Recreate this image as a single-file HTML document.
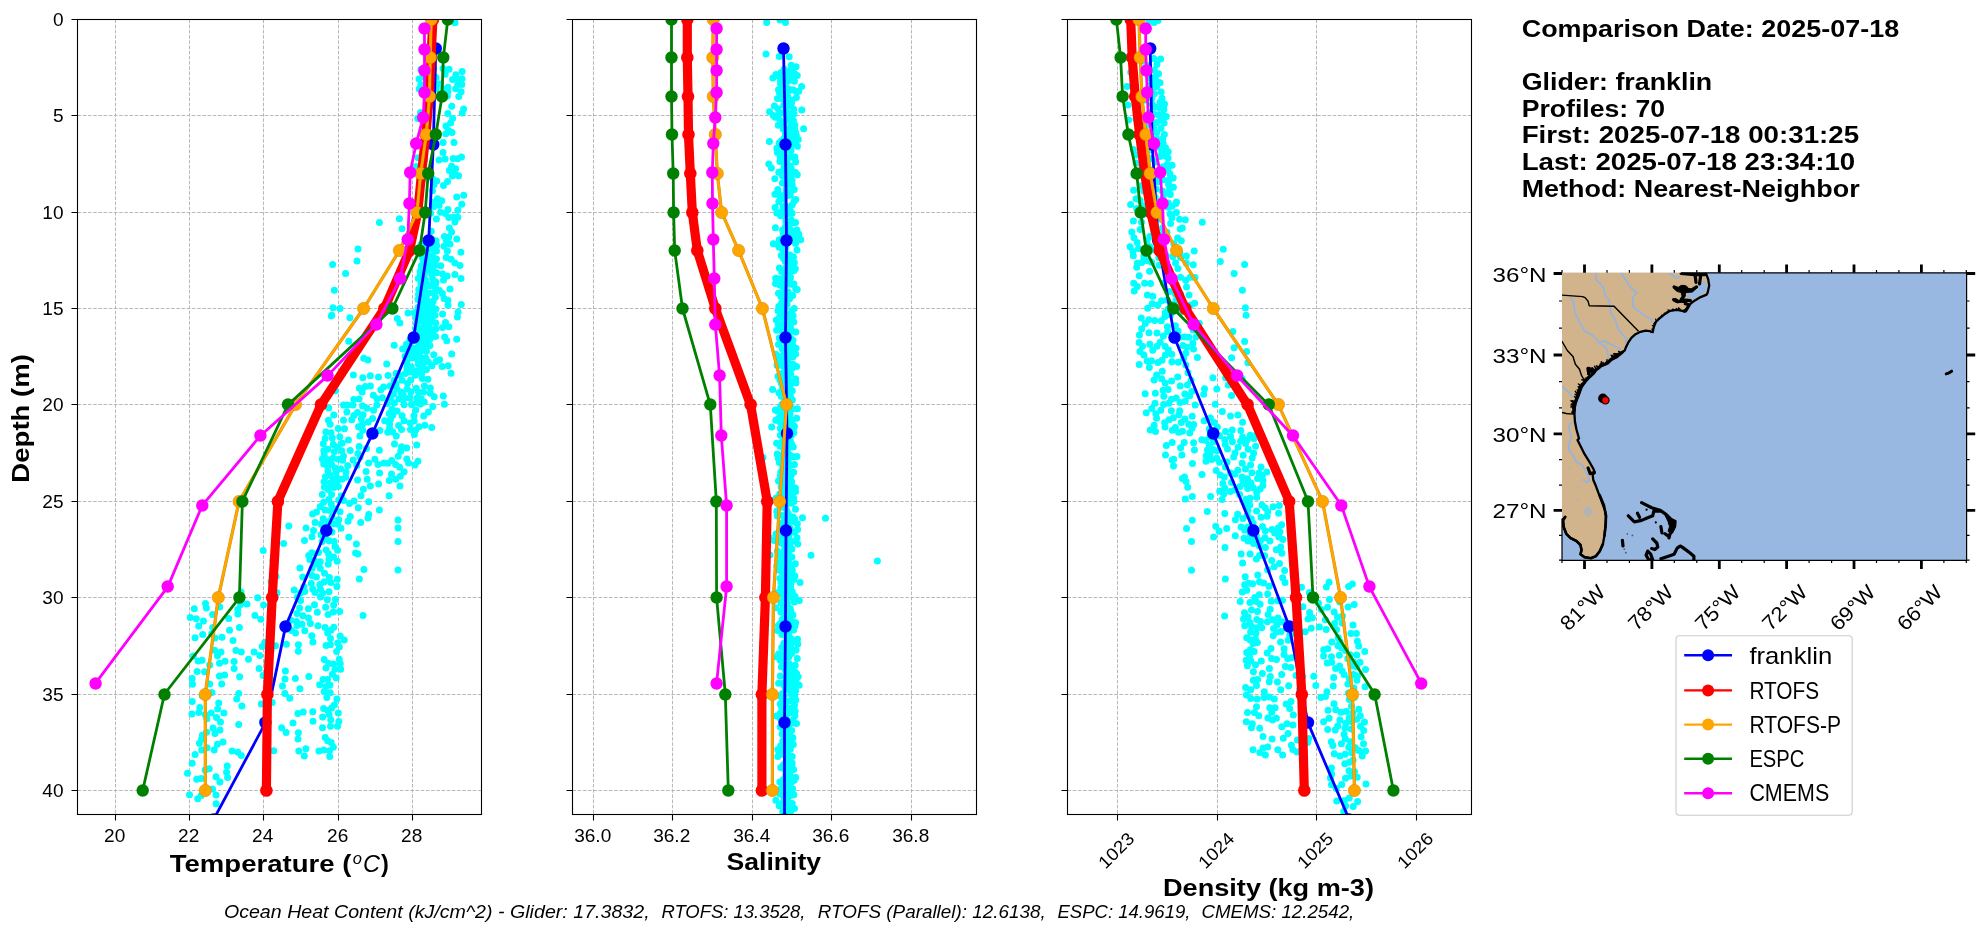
<!DOCTYPE html>
<html><head><meta charset="utf-8"><title>Glider model comparison</title>
<style>html,body{margin:0;padding:0;background:#fff}body{width:1978px;height:934px;overflow:hidden;font-family:"Liberation Sans",sans-serif}svg{display:block;transform:translateZ(0);will-change:transform}</style></head>
<body>
<svg width="1978" height="934" viewBox="0 0 1978 934" font-family="Liberation Sans, sans-serif" fill="#000">
<rect width="1978" height="934" fill="#fff"/>
<clipPath id="cp0"><rect x="77.5" y="19.5" width="404.0" height="795.0"/></clipPath>
<path d="M115.5 19.5V814.5M189.5 19.5V814.5M263.5 19.5V814.5M338.5 19.5V814.5M412.5 19.5V814.5M77.5 115.5H481.5M77.5 212.5H481.5M77.5 308.5H481.5M77.5 404.5H481.5M77.5 501.5H481.5M77.5 597.5H481.5M77.5 694.5H481.5M77.5 790.5H481.5" stroke="#b0b0b0" stroke-width="0.9" stroke-dasharray="3.6 1.6" fill="none"/>
<g clip-path="url(#cp0)">
<path d="M451.9 19.6h0M455.0 22.8h0M439.8 83.9h0M420.8 84.8h0M447.8 91.8h0M455.8 74.8h0M435.7 84.0h0M419.0 79.1h0M425.7 70.8h0M436.0 88.9h0M443.3 89.2h0M455.7 88.7h0M430.8 78.0h0M462.1 71.6h0M445.1 74.3h0M461.8 84.6h0M449.1 69.3h0M436.0 77.6h0M420.9 69.6h0M433.6 69.3h0M422.7 76.7h0M419.2 89.0h0M443.0 68.6h0M457.7 84.7h0M425.7 86.5h0M433.2 73.4h0M429.9 84.6h0M462.0 78.7h0M461.1 91.7h0M456.7 79.5h0M448.0 87.2h0M452.5 79.5h0M420.5 112.5h0M431.6 102.3h0M423.6 116.6h0M458.8 96.4h0M447.4 95.9h0M462.2 113.0h0M447.8 113.5h0M463.6 109.1h0M451.7 106.3h0M417.8 118.4h0M429.6 135.5h0M423.4 143.2h0M427.6 123.7h0M446.0 125.9h0M445.8 133.8h0M443.1 142.6h0M448.5 130.4h0M454.0 142.4h0M452.0 132.4h0M452.6 118.5h0M450.6 122.9h0M416.0 166.6h0M418.1 157.8h0M424.7 160.0h0M445.1 159.0h0M451.6 166.2h0M439.0 160.1h0M443.0 152.5h0M457.6 158.7h0M461.5 157.0h0M453.2 158.6h0M449.4 170.4h0M455.6 168.7h0M423.4 179.3h0M419.6 198.4h0M458.6 175.8h0M434.1 184.4h0M432.5 178.7h0M432.5 190.7h0M456.7 197.1h0M452.4 176.0h0M437.5 198.7h0M443.5 185.6h0M463.7 195.3h0M447.5 181.5h0M436.7 180.9h0M454.6 172.5h0M448.8 217.6h0M430.6 213.3h0M432.2 239.4h0M456.8 238.9h0M431.3 231.2h0M439.2 205.2h0M444.4 236.5h0M457.8 210.3h0M449.4 228.0h0M433.0 202.3h0M453.4 217.0h0M451.6 232.1h0M445.4 213.6h0M448.8 237.1h0M447.9 209.5h0M433.7 206.5h0M440.6 212.2h0M441.8 200.7h0M454.9 222.0h0M436.4 219.0h0M461.8 204.3h0M457.8 217.3h0M428.4 269.2h0M426.7 257.7h0M431.7 274.4h0M432.0 262.3h0M426.9 252.2h0M420.9 244.5h0M421.2 265.9h0M424.8 248.5h0M422.7 255.6h0M424.5 273.7h0M436.5 259.1h0M420.1 249.2h0M436.7 245.2h0M432.5 268.4h0M423.9 241.1h0M432.5 248.8h0M428.1 263.9h0M427.9 244.1h0M436.6 272.8h0M423.6 260.4h0M435.7 265.0h0M432.4 255.8h0M436.5 250.9h0M436.0 240.8h0M420.1 271.6h0M433.0 243.5h0M424.3 268.6h0M420.3 274.7h0M425.4 270.8h0M422.0 257.1h0M422.3 255.0h0M423.0 264.0h0M440.8 265.8h0M450.0 243.9h0M446.2 257.4h0M460.9 252.2h0M442.6 273.9h0M460.0 265.6h0M444.1 246.2h0M446.4 240.4h0M454.9 262.9h0M451.1 259.2h0M454.9 274.4h0M447.4 251.1h0M425.5 307.1h0M425.0 287.7h0M425.4 279.7h0M422.6 295.2h0M433.2 300.9h0M430.5 285.7h0M429.6 293.1h0M418.0 299.6h0M426.5 298.8h0M434.7 292.4h0M424.9 302.5h0M432.7 279.1h0M420.8 283.3h0M429.5 303.3h0M418.5 294.6h0M418.1 307.6h0M419.0 289.3h0M432.1 306.4h0M422.4 299.2h0M435.4 297.2h0M418.3 278.6h0M435.2 287.0h0M421.7 305.0h0M425.6 292.5h0M426.6 283.5h0M435.9 281.9h0M435.4 287.6h0M425.8 282.5h0M435.4 285.6h0M429.6 302.5h0M425.1 299.9h0M423.0 278.6h0M418.8 289.8h0M433.7 281.7h0M447.9 300.2h0M443.5 280.0h0M450.0 289.0h0M461.3 304.6h0M442.4 293.5h0M447.2 276.1h0M448.0 305.2h0M461.0 278.6h0M444.1 298.6h0M439.4 290.6h0M414.3 312.8h0M425.4 312.4h0M432.1 321.3h0M419.5 315.7h0M430.3 311.1h0M427.1 335.6h0M429.3 326.8h0M429.9 316.9h0M423.6 317.0h0M420.0 328.6h0M415.9 333.6h0M416.5 324.3h0M425.1 331.0h0M422.2 321.2h0M435.6 336.6h0M435.9 328.7h0M429.3 331.7h0M418.1 338.4h0M435.8 322.9h0M421.4 311.3h0M421.2 335.2h0M435.1 315.3h0M416.2 318.7h0M435.8 308.9h0M424.1 325.7h0M430.0 339.0h0M416.0 329.4h0M426.8 322.3h0M423.8 339.3h0M433.1 333.0h0M427.2 333.1h0M431.1 329.5h0M442.5 327.5h0M445.5 322.6h0M448.9 326.8h0M457.4 317.0h0M442.6 313.9h0M458.1 312.0h0M444.6 336.9h0M456.7 339.3h0M349.9 317.7h0M331.3 316.0h0M340.0 308.5h0M399.8 323.1h0M408.0 312.9h0M397.3 318.6h0M406.5 344.3h0M406.9 368.0h0M426.5 369.5h0M422.2 350.5h0M427.0 342.8h0M405.3 373.4h0M410.2 372.0h0M406.6 362.6h0M417.3 347.4h0M428.4 362.1h0M423.3 361.8h0M425.8 358.0h0M420.5 357.2h0M411.8 358.1h0M410.0 340.2h0M418.6 370.5h0M418.3 364.1h0M407.3 349.1h0M412.8 352.4h0M431.9 365.7h0M429.9 345.6h0M421.6 373.6h0M414.5 370.7h0M426.5 351.2h0M414.3 340.2h0M423.5 345.1h0M407.9 353.3h0M411.8 347.4h0M405.1 356.3h0M411.2 366.8h0M422.6 366.4h0M419.0 342.6h0M417.4 353.0h0M416.2 358.4h0M439.6 359.7h0M433.8 354.7h0M451.7 354.0h0M442.1 366.4h0M448.2 365.8h0M436.0 361.6h0M446.8 340.7h0M451.0 373.2h0M343.5 369.4h0M350.7 355.7h0M348.8 341.2h0M347.2 362.7h0M394.2 345.2h0M363.7 358.3h0M386.7 364.1h0M367.9 359.9h0M402.6 348.9h0M396.1 373.6h0M416.2 388.2h0M407.1 389.0h0M402.1 380.2h0M424.4 385.9h0M423.5 391.9h0M424.3 401.9h0M400.8 391.9h0M403.2 399.9h0M393.5 394.1h0M411.5 404.5h0M410.9 391.9h0M399.1 398.7h0M409.5 397.9h0M396.7 388.8h0M394.2 380.4h0M404.1 404.8h0M421.2 398.8h0M422.4 378.5h0M400.1 375.4h0M410.7 380.0h0M427.9 379.2h0M418.5 392.3h0M394.4 402.8h0M403.3 395.1h0M416.7 398.3h0M407.6 383.2h0M416.5 402.5h0M420.5 404.0h0M415.4 375.2h0M396.0 384.3h0M430.3 388.0h0M434.2 396.8h0M444.4 404.3h0M430.2 393.3h0M443.3 395.9h0M378.5 377.0h0M370.3 375.7h0M377.0 398.8h0M353.4 375.1h0M376.8 405.0h0M370.4 386.0h0M353.8 399.4h0M390.2 386.0h0M347.6 404.9h0M359.4 388.3h0M383.7 387.0h0M359.1 399.1h0M390.3 397.7h0M387.4 403.6h0M365.3 386.6h0M335.4 390.8h0M388.1 375.5h0M373.4 395.2h0M362.8 377.7h0M382.4 397.8h0M362.2 391.9h0M380.8 389.8h0M372.6 418.6h0M398.6 425.6h0M358.5 426.7h0M362.6 423.9h0M362.7 430.2h0M419.0 426.8h0M363.1 414.8h0M368.3 421.9h0M328.4 420.3h0M414.1 421.0h0M424.8 425.2h0M367.1 408.3h0M410.5 429.6h0M397.1 411.1h0M361.4 418.7h0M370.8 432.5h0M387.7 432.3h0M415.8 410.0h0M402.1 415.7h0M384.7 420.8h0M392.8 415.3h0M353.0 405.1h0M389.6 428.3h0M414.0 415.8h0M423.7 415.9h0M331.1 432.7h0M404.1 420.7h0M389.2 413.4h0M401.5 429.5h0M346.9 412.0h0M410.2 423.0h0M343.5 405.1h0M343.5 420.2h0M357.5 412.4h0M362.6 405.9h0M379.9 430.4h0M325.9 432.1h0M415.7 430.1h0M338.2 428.6h0M328.7 408.0h0M351.8 419.8h0M353.9 415.4h0M392.0 409.2h0M333.8 414.9h0M390.6 418.9h0M392.9 432.0h0M373.6 410.3h0M389.6 424.0h0M344.5 428.7h0M330.2 424.3h0M431.7 427.4h0M428.4 412.0h0M432.8 406.4h0M343.5 456.1h0M333.3 444.6h0M323.8 450.7h0M339.8 436.8h0M324.3 454.9h0M332.8 458.3h0M331.5 464.4h0M342.1 443.3h0M334.3 451.8h0M338.2 459.2h0M327.8 449.2h0M322.4 459.0h0M332.3 438.1h0M341.7 450.8h0M323.3 443.7h0M325.1 438.6h0M323.7 463.9h0M342.6 460.2h0M337.9 446.9h0M328.5 459.7h0M378.0 464.5h0M388.0 463.2h0M416.7 445.0h0M398.2 456.3h0M359.9 436.0h0M350.2 450.4h0M353.2 460.1h0M401.5 446.7h0M359.1 446.6h0M391.7 460.6h0M406.8 459.0h0M396.3 436.0h0M358.0 453.5h0M368.6 463.0h0M366.5 448.5h0M383.8 463.1h0M400.7 451.2h0M417.9 461.3h0M348.4 440.1h0M394.5 444.1h0M374.8 459.3h0M379.4 450.2h0M414.4 434.5h0M360.1 457.1h0M414.9 464.9h0M395.6 464.4h0M406.7 448.1h0M408.5 463.0h0M335.3 467.9h0M328.2 489.6h0M328.0 470.8h0M336.0 472.5h0M340.6 468.8h0M333.9 487.5h0M324.4 487.0h0M324.1 481.7h0M338.4 486.6h0M325.4 476.7h0M330.5 483.0h0M322.3 494.5h0M330.0 475.2h0M336.6 482.7h0M338.7 499.9h0M341.9 479.2h0M331.6 494.4h0M341.4 496.0h0M337.2 478.0h0M327.3 465.7h0M328.8 499.6h0M333.0 479.2h0M367.2 479.2h0M389.2 480.5h0M389.1 495.7h0M347.7 465.7h0M404.1 471.8h0M395.7 479.2h0M356.8 465.4h0M370.3 486.0h0M361.0 495.8h0M391.5 474.0h0M357.6 480.0h0M345.7 477.2h0M379.6 473.1h0M366.1 471.4h0M399.7 467.3h0M378.6 484.1h0M400.3 476.2h0M346.0 472.0h0M400.0 486.0h0M363.4 489.2h0M327.9 532.0h0M316.5 512.0h0M325.1 527.6h0M315.1 522.4h0M321.2 524.3h0M320.3 506.5h0M331.9 531.9h0M323.6 502.3h0M334.6 509.0h0M332.1 517.1h0M323.2 518.7h0M313.5 530.5h0M325.0 510.1h0M328.1 521.8h0M331.2 503.9h0M337.9 524.2h0M340.0 511.7h0M338.7 519.8h0M330.2 510.6h0M321.0 534.7h0M333.6 523.8h0M312.6 514.0h0M348.0 521.3h0M368.7 514.4h0M343.7 500.5h0M354.1 501.0h0M368.7 501.7h0M350.3 516.6h0M358.3 507.8h0M360.7 522.4h0M349.5 503.6h0M341.0 528.3h0M288.8 526.1h0M306.0 527.9h0M308.7 555.5h0M333.5 557.1h0M326.1 549.9h0M318.6 552.4h0M322.1 541.6h0M328.2 564.2h0M320.2 561.8h0M311.9 552.7h0M328.5 553.7h0M329.1 540.8h0M337.2 561.2h0M334.2 541.5h0M329.0 559.4h0M320.3 568.2h0M334.9 546.6h0M314.0 560.3h0M312.0 536.7h0M325.5 537.9h0M309.8 559.6h0M312.2 568.3h0M337.6 550.3h0M316.5 564.0h0M272.8 560.4h0M274.6 549.3h0M283.6 543.6h0M299.9 567.9h0M304.5 540.6h0M263.2 550.4h0M358.0 554.1h0M363.9 569.6h0M356.4 544.1h0M348.8 537.3h0M315.0 592.5h0M312.0 575.6h0M320.5 596.9h0M324.5 573.3h0M316.4 576.9h0M330.9 582.5h0M311.3 583.5h0M337.3 579.2h0M320.5 589.5h0M312.7 588.9h0M300.5 593.1h0M319.9 584.4h0M304.8 591.5h0M327.4 599.7h0M335.5 599.6h0M303.9 587.0h0M329.4 577.6h0M322.6 593.3h0M302.7 576.9h0M324.1 582.1h0M329.0 591.8h0M336.9 586.4h0M294.2 590.1h0M241.1 592.0h0M271.1 581.4h0M277.0 592.8h0M276.0 576.5h0M297.4 597.3h0M257.6 597.8h0M339.7 611.4h0M299.6 608.1h0M314.5 604.8h0M301.9 624.2h0M290.9 620.2h0M310.4 623.4h0M302.9 615.8h0M300.6 600.5h0M333.2 612.1h0M304.8 630.8h0M308.5 617.9h0M297.0 613.6h0M333.8 627.2h0M330.9 630.2h0M296.5 621.5h0M317.3 612.2h0M325.6 607.3h0M297.0 625.6h0M328.1 614.4h0M308.4 608.8h0M333.7 605.1h0M318.0 625.7h0M291.5 630.5h0M325.1 627.4h0M212.6 614.4h0M194.3 608.7h0M237.8 609.4h0M239.4 627.5h0M240.6 604.6h0M212.7 627.5h0M206.4 608.1h0M190.2 617.6h0M219.8 607.0h0M203.5 620.9h0M198.7 625.9h0M237.8 613.9h0M196.3 618.8h0M205.5 603.5h0M228.7 618.5h0M229.5 630.3h0M260.8 619.3h0M254.9 615.4h0M271.1 610.1h0M272.2 617.9h0M247.0 603.9h0M263.6 604.9h0M221.0 652.0h0M225.1 661.3h0M198.1 660.9h0M241.3 651.9h0M235.9 650.6h0M215.0 638.1h0M217.5 655.8h0M234.1 661.6h0M219.5 663.2h0M211.7 633.6h0M214.6 650.3h0M233.0 640.5h0M193.3 656.1h0M202.1 660.3h0M222.0 637.3h0M195.0 637.8h0M202.7 634.5h0M286.4 644.2h0M275.5 645.7h0M312.9 642.1h0M298.3 651.2h0M266.9 662.2h0M264.7 642.6h0M259.8 655.4h0M298.4 644.7h0M254.1 652.1h0M271.0 650.6h0M295.5 633.0h0M248.5 659.2h0M311.8 635.8h0M262.2 646.6h0M337.8 642.9h0M340.2 635.9h0M333.4 664.1h0M328.7 663.6h0M326.1 645.5h0M336.6 651.4h0M339.4 646.9h0M330.5 638.4h0M327.7 633.0h0M324.2 659.5h0M340.2 663.8h0M330.4 644.8h0M339.3 659.2h0M224.6 675.0h0M197.1 671.4h0M204.6 671.7h0M219.4 676.0h0M202.3 695.7h0M209.7 665.1h0M192.5 684.3h0M221.7 683.9h0M238.7 693.5h0M236.7 699.0h0M209.7 684.0h0M211.9 692.5h0M239.6 676.8h0M192.2 678.6h0M234.1 668.4h0M282.5 686.0h0M308.8 676.5h0M289.8 698.3h0M319.7 684.8h0M267.8 687.8h0M299.9 688.8h0M295.4 678.5h0M259.1 668.5h0M285.4 671.0h0M263.1 675.4h0M270.5 679.6h0M285.0 679.0h0M284.9 693.5h0M268.8 671.5h0M326.0 668.1h0M329.9 685.1h0M324.2 691.5h0M330.2 692.8h0M334.9 669.2h0M332.4 674.3h0M336.2 678.0h0M340.7 669.2h0M326.8 697.6h0M323.0 679.4h0M336.9 699.1h0M326.1 686.6h0M327.5 679.5h0M220.5 722.1h0M223.9 713.0h0M206.9 718.8h0M213.0 727.9h0M216.5 717.6h0M220.0 730.0h0M205.3 714.8h0M238.7 724.4h0M217.7 709.1h0M198.9 712.5h0M211.3 713.0h0M218.7 703.1h0M199.8 707.5h0M191.9 714.1h0M192.2 701.6h0M281.6 727.7h0M297.9 713.4h0M261.3 704.0h0M293.0 722.9h0M272.2 702.6h0M262.7 721.2h0M303.2 712.0h0M312.8 711.7h0M241.9 706.1h0M313.0 721.2h0M323.6 708.6h0M329.1 714.4h0M322.5 727.7h0M331.6 707.9h0M322.6 717.1h0M338.8 721.6h0M337.5 726.2h0M330.5 726.2h0M327.8 710.5h0M330.8 719.8h0M338.3 712.9h0M334.4 704.9h0M202.3 735.2h0M195.1 754.5h0M237.9 752.2h0M214.2 750.1h0M223.0 741.9h0M215.0 733.4h0M201.6 739.3h0M207.1 747.8h0M232.0 751.1h0M199.4 743.2h0M201.7 750.0h0M217.4 744.2h0M206.6 732.3h0M298.8 750.9h0M273.7 750.8h0M305.9 748.7h0M304.3 756.1h0M241.3 755.4h0M298.4 732.7h0M286.1 732.4h0M298.0 739.1h0M325.2 737.4h0M333.4 747.3h0M323.7 750.0h0M329.5 750.7h0M329.7 756.6h0M331.2 742.5h0M327.6 740.7h0M318.9 751.1h0M205.1 770.0h0M187.5 773.3h0M227.2 766.1h0M219.9 782.0h0M216.0 776.7h0M196.7 779.3h0M212.5 788.9h0M209.2 768.7h0M227.6 777.6h0M201.0 778.4h0M192.2 763.2h0M226.6 772.3h0M216.1 794.9h0M201.2 795.5h0M216.1 803.7h0M197.7 798.8h0M189.5 794.8h0M379.4 222.5h0M399.4 218.8h0M402.0 228.8h0M358.0 249.0h0M357.0 261.0h0M332.6 264.6h0M345.6 273.4h0M334.3 290.2h0M333.0 307.7h0M331.8 315.2h0M398.0 520.0h0M398.0 528.0h0M398.0 541.5h0M398.0 570.0h0M368.0 518.0h0M379.4 510.0h0M355.6 553.0h0M359.4 579.0h0M363.0 615.4h0M344.3 640.0h0" stroke="#00ffff" stroke-width="7" stroke-linecap="round" fill="none"/>
<polyline points="435.8,48.2 433.3,144.6 428.7,241.0 413.7,337.4 372.4,433.8 326.3,530.2 285.5,626.6 265.4,722.9 213.7,819.3" fill="none" stroke="#0000ff" stroke-width="2.8" stroke-linejoin="round"/>
<circle cx="435.8" cy="48.5" r="6.2" fill="#0000ff"/>
<circle cx="433.3" cy="144.5" r="6.2" fill="#0000ff"/>
<circle cx="428.7" cy="240.5" r="6.2" fill="#0000ff"/>
<circle cx="413.7" cy="337.5" r="6.2" fill="#0000ff"/>
<circle cx="372.4" cy="433.5" r="6.2" fill="#0000ff"/>
<circle cx="326.3" cy="530.5" r="6.2" fill="#0000ff"/>
<circle cx="285.5" cy="626.5" r="6.2" fill="#0000ff"/>
<circle cx="265.4" cy="722.5" r="6.2" fill="#0000ff"/>
<circle cx="213.7" cy="819.5" r="6.2" fill="#0000ff"/>
<polyline points="432.9,19.3 431.0,57.9 429.3,96.4 425.8,135.0 421.5,173.5 417.8,212.1 409.5,250.6 384.4,308.5 321.0,404.9 277.9,501.2 272.2,597.6 267.4,694.0 266.4,790.4" fill="none" stroke="#ff0000" stroke-width="9.2" stroke-linejoin="round"/>
<circle cx="432.9" cy="19.5" r="6.3" fill="#ff0000"/>
<circle cx="431.0" cy="57.5" r="6.3" fill="#ff0000"/>
<circle cx="429.3" cy="96.5" r="6.3" fill="#ff0000"/>
<circle cx="425.8" cy="134.5" r="6.3" fill="#ff0000"/>
<circle cx="421.5" cy="173.5" r="6.3" fill="#ff0000"/>
<circle cx="417.8" cy="212.5" r="6.3" fill="#ff0000"/>
<circle cx="409.5" cy="250.5" r="6.3" fill="#ff0000"/>
<circle cx="384.4" cy="308.5" r="6.3" fill="#ff0000"/>
<circle cx="321.0" cy="404.5" r="6.3" fill="#ff0000"/>
<circle cx="277.9" cy="501.5" r="6.3" fill="#ff0000"/>
<circle cx="272.2" cy="597.5" r="6.3" fill="#ff0000"/>
<circle cx="267.4" cy="694.5" r="6.3" fill="#ff0000"/>
<circle cx="266.4" cy="790.5" r="6.3" fill="#ff0000"/>
<polyline points="431.2,19.3 430.2,57.9 429.5,96.4 426.2,135.0 420.7,173.5 417.0,212.1 399.4,250.6 363.6,308.5 295.5,404.9 239.1,501.2 218.3,597.6 205.3,694.0 205.3,790.4" fill="none" stroke="#cf8a08" stroke-width="3.2" stroke-linejoin="round"/>
<polyline points="431.2,19.3 430.2,57.9 429.5,96.4 426.2,135.0 420.7,173.5 417.0,212.1 399.4,250.6 363.6,308.5 295.5,404.9 239.1,501.2 218.3,597.6 205.3,694.0 205.3,790.4" fill="none" stroke="#ffa500" stroke-width="2.5" stroke-linejoin="round"/>
<circle cx="431.2" cy="19.5" r="6.2" fill="#ffa500" stroke="#cf8a08" stroke-width="0.5"/>
<circle cx="430.2" cy="57.5" r="6.2" fill="#ffa500" stroke="#cf8a08" stroke-width="0.5"/>
<circle cx="429.5" cy="96.5" r="6.2" fill="#ffa500" stroke="#cf8a08" stroke-width="0.5"/>
<circle cx="426.2" cy="134.5" r="6.2" fill="#ffa500" stroke="#cf8a08" stroke-width="0.5"/>
<circle cx="420.7" cy="173.5" r="6.2" fill="#ffa500" stroke="#cf8a08" stroke-width="0.5"/>
<circle cx="417.0" cy="212.5" r="6.2" fill="#ffa500" stroke="#cf8a08" stroke-width="0.5"/>
<circle cx="399.4" cy="250.5" r="6.2" fill="#ffa500" stroke="#cf8a08" stroke-width="0.5"/>
<circle cx="363.6" cy="308.5" r="6.2" fill="#ffa500" stroke="#cf8a08" stroke-width="0.5"/>
<circle cx="295.5" cy="404.5" r="6.2" fill="#ffa500" stroke="#cf8a08" stroke-width="0.5"/>
<circle cx="239.1" cy="501.5" r="6.2" fill="#ffa500" stroke="#cf8a08" stroke-width="0.5"/>
<circle cx="218.3" cy="597.5" r="6.2" fill="#ffa500" stroke="#cf8a08" stroke-width="0.5"/>
<circle cx="205.3" cy="694.5" r="6.2" fill="#ffa500" stroke="#cf8a08" stroke-width="0.5"/>
<circle cx="205.3" cy="790.5" r="6.2" fill="#ffa500" stroke="#cf8a08" stroke-width="0.5"/>
<polyline points="447.8,19.3 443.3,57.9 442.0,96.4 435.8,135.0 428.2,173.5 425.2,212.1 419.5,250.6 392.4,308.5 288.0,404.9 242.4,501.2 239.4,597.6 164.5,694.0 142.7,790.4" fill="none" stroke="#008000" stroke-width="2.8" stroke-linejoin="round"/>
<circle cx="447.8" cy="19.5" r="6.2" fill="#008000"/>
<circle cx="443.3" cy="57.5" r="6.2" fill="#008000"/>
<circle cx="442.0" cy="96.5" r="6.2" fill="#008000"/>
<circle cx="435.8" cy="134.5" r="6.2" fill="#008000"/>
<circle cx="428.2" cy="173.5" r="6.2" fill="#008000"/>
<circle cx="425.2" cy="212.5" r="6.2" fill="#008000"/>
<circle cx="419.5" cy="250.5" r="6.2" fill="#008000"/>
<circle cx="392.4" cy="308.5" r="6.2" fill="#008000"/>
<circle cx="288.0" cy="404.5" r="6.2" fill="#008000"/>
<circle cx="242.4" cy="501.5" r="6.2" fill="#008000"/>
<circle cx="239.4" cy="597.5" r="6.2" fill="#008000"/>
<circle cx="164.5" cy="694.5" r="6.2" fill="#008000"/>
<circle cx="142.7" cy="790.5" r="6.2" fill="#008000"/>
<polyline points="424.5,28.8 424.5,49.0 424.5,70.3 424.5,92.9 423.2,117.2 416.2,143.5 410.2,172.2 409.4,203.8 407.7,239.2 400.2,278.9 376.4,324.1 327.5,375.9 260.4,435.7 202.3,505.3 167.7,586.9 95.6,683.1" fill="none" stroke="#ff00ff" stroke-width="2.8" stroke-linejoin="round"/>
<circle cx="424.5" cy="28.5" r="6.2" fill="#ff00ff"/>
<circle cx="424.5" cy="49.5" r="6.2" fill="#ff00ff"/>
<circle cx="424.5" cy="70.5" r="6.2" fill="#ff00ff"/>
<circle cx="424.5" cy="92.5" r="6.2" fill="#ff00ff"/>
<circle cx="423.2" cy="117.5" r="6.2" fill="#ff00ff"/>
<circle cx="416.2" cy="143.5" r="6.2" fill="#ff00ff"/>
<circle cx="410.2" cy="172.5" r="6.2" fill="#ff00ff"/>
<circle cx="409.4" cy="203.5" r="6.2" fill="#ff00ff"/>
<circle cx="407.7" cy="239.5" r="6.2" fill="#ff00ff"/>
<circle cx="400.2" cy="278.5" r="6.2" fill="#ff00ff"/>
<circle cx="376.4" cy="324.5" r="6.2" fill="#ff00ff"/>
<circle cx="327.5" cy="375.5" r="6.2" fill="#ff00ff"/>
<circle cx="260.4" cy="435.5" r="6.2" fill="#ff00ff"/>
<circle cx="202.3" cy="505.5" r="6.2" fill="#ff00ff"/>
<circle cx="167.7" cy="586.5" r="6.2" fill="#ff00ff"/>
<circle cx="95.6" cy="683.5" r="6.2" fill="#ff00ff"/>
</g>
<path d="M115.5 814.5v6M189.5 814.5v6M263.5 814.5v6M338.5 814.5v6M412.5 814.5v6M77.5 19.5h-6M77.5 115.5h-6M77.5 212.5h-6M77.5 308.5h-6M77.5 404.5h-6M77.5 501.5h-6M77.5 597.5h-6M77.5 694.5h-6M77.5 790.5h-6" stroke="#000" stroke-width="1.1" fill="none"/>
<rect x="77.5" y="19.5" width="404.0" height="795.0" fill="none" stroke="#000" stroke-width="1.1"/>
<text x="114.70" y="842.00" font-size="17.7" text-anchor="middle" font-weight="normal" font-style="normal" textLength="21.2" lengthAdjust="spacingAndGlyphs">20</text>
<text x="188.70" y="842.00" font-size="17.7" text-anchor="middle" font-weight="normal" font-style="normal" textLength="21.2" lengthAdjust="spacingAndGlyphs">22</text>
<text x="262.70" y="842.00" font-size="17.7" text-anchor="middle" font-weight="normal" font-style="normal" textLength="21.2" lengthAdjust="spacingAndGlyphs">24</text>
<text x="337.70" y="842.00" font-size="17.7" text-anchor="middle" font-weight="normal" font-style="normal" textLength="21.2" lengthAdjust="spacingAndGlyphs">26</text>
<text x="411.70" y="842.00" font-size="17.7" text-anchor="middle" font-weight="normal" font-style="normal" textLength="21.2" lengthAdjust="spacingAndGlyphs">28</text>
<clipPath id="cp1"><rect x="572.5" y="19.5" width="404.0" height="795.0"/></clipPath>
<path d="M593.5 19.5V814.5M672.5 19.5V814.5M752.5 19.5V814.5M831.5 19.5V814.5M911.5 19.5V814.5M572.5 115.5H976.5M572.5 212.5H976.5M572.5 308.5H976.5M572.5 404.5H976.5M572.5 501.5H976.5M572.5 597.5H976.5M572.5 694.5H976.5M572.5 790.5H976.5" stroke="#b0b0b0" stroke-width="0.9" stroke-dasharray="3.6 1.6" fill="none"/>
<g clip-path="url(#cp1)">
<path d="M782.1 53.3h0M779.2 56.6h0M789.2 56.8h0M797.3 75.5h0M784.3 74.0h0M786.9 75.8h0M790.3 80.0h0M792.6 68.3h0M780.5 83.6h0M794.9 74.1h0M784.2 69.3h0M787.6 88.4h0M782.7 86.9h0M780.5 80.8h0M792.8 72.2h0M778.8 76.1h0M783.1 75.8h0M785.0 71.4h0M793.7 77.1h0M775.9 74.5h0M786.5 78.2h0M787.2 81.4h0M781.1 72.6h0M791.1 70.1h0M772.8 78.1h0M782.7 82.3h0M801.6 86.6h0M796.1 66.7h0M794.4 81.2h0M791.2 65.3h0M796.1 91.2h0M792.0 100.3h0M780.1 113.3h0M787.4 106.6h0M781.4 98.6h0M780.4 94.7h0M787.7 96.6h0M785.7 110.8h0M774.4 106.0h0M801.8 110.0h0M791.2 89.8h0M777.5 98.4h0M783.5 112.7h0M778.0 108.8h0M796.4 97.6h0M769.5 111.7h0M798.8 91.2h0M786.5 101.5h0M783.8 104.9h0M792.3 112.6h0M793.7 109.2h0M778.5 89.7h0M779.4 92.5h0M793.5 90.1h0M789.0 90.4h0M782.7 91.1h0M791.4 103.5h0M789.0 130.4h0M784.4 122.3h0M794.5 128.5h0M793.9 114.0h0M792.5 137.1h0M788.6 118.7h0M794.9 125.1h0M785.4 133.5h0M796.3 135.1h0M784.3 138.3h0M786.2 128.9h0M780.1 120.6h0M778.3 125.2h0M789.5 136.7h0M786.4 116.1h0M778.0 114.9h0M791.1 124.8h0M803.6 128.7h0M783.9 126.7h0M775.2 117.2h0M790.8 133.1h0M793.5 120.7h0M791.7 118.1h0M795.6 132.3h0M783.4 129.2h0M773.2 115.6h0M780.7 123.5h0M788.1 148.9h0M795.6 162.0h0M786.9 161.9h0M791.8 157.0h0M780.2 157.3h0M789.2 142.7h0M785.4 159.2h0M781.4 140.8h0M798.3 139.6h0M779.2 143.0h0M797.4 146.3h0M783.8 149.4h0M794.9 156.9h0M776.8 148.3h0M791.0 145.4h0M769.4 141.4h0M783.5 145.3h0M788.4 139.2h0M783.3 142.4h0M794.9 140.9h0M779.9 161.5h0M785.6 151.2h0M777.4 152.4h0M789.4 157.4h0M784.2 154.0h0M791.0 150.6h0M782.0 159.3h0M786.1 185.2h0M792.1 180.2h0M785.2 183.1h0M786.4 174.4h0M786.8 167.4h0M792.2 185.0h0M771.4 168.0h0M768.8 164.0h0M795.5 172.6h0M788.5 170.9h0M789.3 179.5h0M797.3 174.8h0M791.2 168.3h0M792.2 172.7h0M790.6 176.5h0M789.8 166.1h0M774.8 178.7h0M784.5 164.2h0M782.6 171.0h0M778.8 172.3h0M788.8 184.5h0M784.1 167.5h0M782.5 176.1h0M786.8 180.4h0M782.4 183.1h0M776.8 212.9h0M775.1 207.5h0M787.5 195.6h0M783.2 206.8h0M780.5 197.3h0M790.5 191.8h0M794.0 201.4h0M785.3 205.4h0M792.3 204.8h0M784.7 211.3h0M781.7 211.2h0M786.1 190.0h0M777.8 189.6h0M783.9 198.7h0M774.9 194.3h0M787.5 207.6h0M790.2 195.3h0M794.2 189.6h0M795.8 199.4h0M785.1 194.5h0M787.5 213.7h0M790.3 210.8h0M778.8 201.8h0M778.3 193.5h0M792.1 213.2h0M786.8 230.4h0M797.9 237.0h0M783.6 236.2h0M794.7 236.1h0M782.6 229.9h0M775.4 227.8h0M788.9 238.4h0M793.1 237.7h0M791.2 220.0h0M787.6 235.1h0M795.6 222.5h0M789.4 228.5h0M785.8 220.9h0M791.5 230.7h0M784.9 214.7h0M783.1 232.6h0M793.1 222.7h0M780.7 215.8h0M795.1 238.7h0M796.9 230.1h0M785.4 227.1h0M796.6 233.5h0M788.6 221.7h0M798.9 234.2h0M788.7 233.1h0M790.0 255.0h0M800.7 239.8h0M795.5 243.6h0M785.2 261.3h0M779.3 239.7h0M781.4 244.3h0M786.6 243.8h0M785.3 240.7h0M783.5 258.6h0M784.7 250.3h0M789.0 263.3h0M773.3 243.8h0M779.3 247.3h0M794.3 262.5h0M793.5 257.1h0M792.4 259.7h0M789.2 258.2h0M777.8 244.8h0M785.7 247.8h0M786.3 254.0h0M797.0 250.1h0M784.6 255.6h0M782.4 249.0h0M787.1 259.6h0M781.2 255.6h0M775.5 283.5h0M790.5 277.3h0M779.4 268.0h0M786.5 266.8h0M788.8 273.8h0M784.3 284.7h0M793.7 270.7h0M795.3 268.8h0M779.3 278.7h0M787.0 269.5h0M787.7 284.2h0M787.8 264.6h0M782.4 281.5h0M789.3 281.8h0M785.4 277.1h0M790.9 284.3h0M790.5 267.5h0M775.7 278.3h0M783.7 272.7h0M795.7 288.9h0M781.7 271.5h0M779.8 285.0h0M787.0 279.5h0M793.9 283.9h0M782.1 286.3h0M785.7 299.5h0M778.1 310.7h0M791.8 313.9h0M780.0 309.7h0M788.3 296.6h0M792.8 295.4h0M787.1 304.6h0M780.8 296.6h0M794.2 308.4h0M783.4 301.5h0M783.9 309.8h0M778.5 293.3h0M797.2 289.5h0M790.2 295.3h0M778.8 306.4h0M791.8 310.7h0M784.3 292.1h0M785.0 313.0h0M786.4 295.1h0M781.5 303.3h0M785.2 306.9h0M786.8 301.9h0M789.5 299.0h0M780.9 293.1h0M788.2 292.1h0M785.4 331.2h0M780.0 330.0h0M783.3 336.9h0M786.1 327.3h0M782.9 323.4h0M787.2 338.5h0M779.5 317.1h0M790.8 329.0h0M785.9 321.6h0M789.6 323.9h0M782.7 317.9h0M789.3 333.8h0M795.8 332.1h0M779.3 337.9h0M790.4 321.4h0M785.5 336.1h0M778.2 324.3h0M789.2 318.2h0M785.3 318.3h0M790.3 326.7h0M787.2 315.4h0M776.6 330.3h0M789.6 314.5h0M782.3 315.5h0M793.8 322.0h0M793.1 315.8h0M790.9 338.5h0M783.0 327.6h0M791.9 319.2h0M776.3 320.0h0M788.2 344.6h0M788.7 349.4h0M792.9 345.7h0M783.9 340.3h0M787.6 341.3h0M793.0 340.2h0M786.5 351.0h0M782.3 349.1h0M788.2 347.3h0M784.1 351.8h0M784.3 356.3h0M778.9 358.5h0M786.6 356.3h0M785.8 343.5h0M788.1 361.3h0M795.6 354.0h0M790.9 349.6h0M784.3 362.9h0M793.0 356.7h0M778.5 344.6h0M778.7 363.3h0M785.9 345.8h0M789.1 363.9h0M784.7 359.6h0M775.8 354.3h0M791.4 353.3h0M778.4 356.2h0M781.8 359.3h0M796.0 348.2h0M788.2 353.8h0M787.9 383.4h0M785.3 378.6h0M787.8 379.4h0M783.1 372.7h0M787.8 369.8h0M782.2 377.7h0M789.9 385.6h0M785.0 366.5h0M792.1 368.3h0M795.7 379.0h0M784.6 383.0h0M789.7 364.4h0M779.9 379.9h0M777.0 365.2h0M788.0 374.6h0M790.6 373.9h0M781.4 383.5h0M789.6 380.8h0M785.4 369.2h0M782.6 388.5h0M795.9 382.9h0M781.3 365.6h0M793.0 364.3h0M790.0 370.0h0M778.0 376.2h0M785.6 375.4h0M787.5 387.8h0M796.6 366.4h0M787.6 365.6h0M792.7 381.8h0M790.0 413.7h0M793.0 408.8h0M788.5 393.5h0M797.4 408.8h0M792.3 390.7h0M792.4 399.9h0M787.5 401.1h0M786.5 397.9h0M786.0 390.8h0M783.7 397.3h0M785.4 413.2h0M782.4 404.1h0M780.9 394.0h0M781.5 391.2h0M775.4 410.0h0M784.6 405.4h0M788.8 410.3h0M772.6 389.6h0M787.1 403.7h0M780.6 406.5h0M778.9 392.7h0M780.6 408.7h0M780.6 412.4h0M789.6 399.7h0M789.8 407.1h0M786.4 409.0h0M781.2 396.3h0M777.6 411.3h0M790.4 396.2h0M783.2 412.8h0M787.2 417.4h0M785.6 425.5h0M788.9 426.5h0M785.8 422.1h0M791.1 419.5h0M785.6 429.9h0M791.7 434.9h0M782.0 430.6h0M787.6 432.9h0M794.4 426.2h0M787.6 436.7h0M778.5 418.2h0M786.4 419.5h0M784.3 437.3h0M783.5 420.2h0M780.3 428.3h0M782.2 414.5h0M796.6 418.2h0M780.3 435.2h0M775.8 420.2h0M791.0 428.3h0M780.1 421.9h0M789.4 431.1h0M783.8 417.9h0M793.8 432.7h0M793.7 428.3h0M788.9 414.9h0M787.9 423.8h0M791.8 422.5h0M786.2 415.0h0M783.2 463.3h0M789.7 446.1h0M784.3 450.5h0M788.3 461.1h0M794.0 456.8h0M779.3 462.4h0M791.4 443.6h0M783.9 458.9h0M780.1 446.3h0M790.3 440.6h0M786.1 460.3h0M783.2 444.3h0M784.7 453.0h0M776.6 443.3h0M787.7 448.6h0M783.5 447.0h0M784.4 439.9h0M782.2 441.9h0M787.6 452.1h0M785.2 456.9h0M789.6 454.7h0M797.0 456.6h0M793.3 447.1h0M790.9 456.8h0M788.8 442.2h0M783.4 455.2h0M778.4 458.4h0M780.4 455.7h0M777.2 454.1h0M785.7 447.3h0M788.4 472.1h0M791.8 488.8h0M784.8 471.8h0M784.9 466.8h0M780.8 471.9h0M786.5 480.8h0M778.5 481.0h0M786.8 469.9h0M791.6 485.0h0M784.6 488.8h0M794.4 464.5h0M791.5 481.5h0M787.5 486.3h0M782.0 483.2h0M782.6 468.0h0M784.9 477.3h0M788.1 467.8h0M783.9 486.1h0M795.4 488.1h0M793.6 472.2h0M791.9 473.7h0M783.1 480.0h0M780.3 475.5h0M788.8 481.4h0M789.7 483.7h0M781.1 486.9h0M784.0 464.3h0M790.8 476.2h0M790.2 465.3h0M784.7 474.6h0M791.6 503.2h0M788.8 493.7h0M776.7 511.3h0M782.0 504.4h0M778.9 500.3h0M785.3 506.7h0M782.3 507.3h0M782.8 497.8h0M787.9 496.3h0M779.8 493.9h0M779.7 505.2h0M785.0 499.0h0M786.6 504.7h0M787.0 511.1h0M784.0 501.2h0M779.7 502.6h0M788.3 513.9h0M788.6 502.2h0M784.2 495.3h0M793.6 498.0h0M785.2 491.7h0M795.6 491.4h0M773.9 500.0h0M782.2 499.9h0M792.2 495.0h0M795.5 509.2h0M776.1 498.0h0M782.9 489.2h0M793.9 501.6h0M786.2 494.2h0M786.2 536.0h0M783.6 521.8h0M788.4 519.1h0M781.6 523.4h0M797.3 523.8h0M786.3 516.2h0M785.0 518.6h0M788.8 532.6h0M785.7 525.5h0M787.4 522.5h0M784.4 532.4h0M797.6 529.4h0M788.7 530.3h0M789.1 538.4h0M794.6 519.0h0M793.1 517.1h0M787.2 527.4h0M794.6 532.2h0M781.1 526.8h0M782.0 535.3h0M777.4 515.9h0M791.5 532.3h0M793.0 521.5h0M782.3 515.4h0M778.8 532.2h0M775.9 533.9h0M790.3 528.3h0M785.3 528.5h0M788.4 535.7h0M797.0 537.8h0M781.0 540.5h0M786.3 549.7h0M773.9 540.6h0M779.3 555.4h0M797.8 544.0h0M789.8 556.3h0M784.3 550.5h0M788.3 540.6h0M791.8 549.0h0M792.1 541.6h0M784.6 556.5h0M787.4 559.9h0M785.1 543.8h0M779.3 562.5h0M785.0 560.9h0M776.0 539.5h0M777.3 550.9h0M787.6 556.2h0M784.6 546.3h0M787.2 542.9h0M788.5 562.2h0M785.1 540.3h0M783.3 553.9h0M781.6 562.1h0M788.4 553.2h0M795.3 563.7h0M791.9 557.0h0M781.3 543.2h0M787.0 545.5h0M790.1 547.1h0M779.9 578.5h0M784.0 577.3h0M791.5 567.8h0M790.9 583.4h0M779.5 566.3h0M787.1 584.2h0M793.7 579.4h0M784.9 583.6h0M790.5 572.1h0M784.9 564.5h0M787.6 574.6h0M786.3 568.9h0M786.5 580.6h0M782.5 580.4h0M782.4 569.3h0M787.0 587.2h0M800.1 582.5h0M780.8 587.6h0M790.0 579.5h0M776.8 566.0h0M789.9 565.3h0M782.6 573.5h0M790.4 577.0h0M791.3 574.8h0M792.3 570.4h0M790.8 587.8h0M778.6 570.1h0M794.9 576.1h0M785.5 566.8h0M781.0 583.2h0M786.0 612.6h0M785.0 596.3h0M780.9 602.9h0M787.5 603.3h0M794.4 602.1h0M789.8 591.5h0M783.4 599.8h0M786.3 607.0h0M783.6 613.2h0M784.3 604.2h0M792.2 591.8h0M781.2 590.7h0M775.7 607.7h0M787.3 589.4h0M776.6 592.8h0M790.7 597.1h0M787.6 593.8h0M784.4 592.6h0M791.2 614.0h0M782.5 609.5h0M780.9 611.9h0M799.3 600.4h0M784.8 609.2h0M792.9 594.2h0M790.9 611.2h0M783.3 607.1h0M780.7 593.7h0M787.3 598.6h0M795.1 596.6h0M790.2 608.6h0M789.8 627.7h0M793.6 630.1h0M782.7 624.7h0M790.6 617.5h0M782.2 619.6h0M788.1 618.5h0M785.7 629.7h0M786.2 624.3h0M786.7 638.3h0M782.9 629.6h0M781.8 634.5h0M788.7 635.3h0M788.7 621.5h0M795.7 622.8h0M789.5 624.1h0M785.3 614.8h0M794.9 626.1h0M778.4 625.6h0M792.9 621.7h0M782.6 632.2h0M780.4 630.2h0M791.9 624.7h0M789.0 631.0h0M791.2 638.8h0M792.9 614.9h0M780.4 623.6h0M785.1 620.0h0M777.6 630.4h0M791.6 653.4h0M786.4 659.7h0M787.3 651.8h0M789.1 663.6h0M792.9 650.4h0M780.2 660.2h0M785.5 650.4h0M782.3 654.4h0M789.2 640.1h0M784.2 663.3h0M797.8 643.9h0M790.1 650.3h0M792.0 642.5h0M784.4 645.8h0M783.8 643.3h0M778.5 654.0h0M787.0 654.9h0M789.2 644.0h0M797.3 658.6h0M777.1 657.0h0M796.1 650.1h0M788.9 656.7h0M787.0 644.6h0M785.1 653.5h0M781.7 647.4h0M797.5 639.2h0M779.8 656.0h0M790.5 647.2h0M790.3 678.2h0M795.2 665.2h0M790.6 666.2h0M792.6 677.1h0M783.8 682.8h0M790.4 682.4h0M794.4 688.8h0M791.6 669.5h0M787.1 672.2h0M778.6 683.2h0M784.7 664.2h0M784.1 685.5h0M790.3 671.6h0M799.2 685.2h0M785.6 669.9h0M787.8 667.5h0M798.1 676.7h0M788.1 682.2h0M786.7 677.6h0M794.6 679.9h0M796.1 681.8h0M794.7 671.7h0M786.2 687.8h0M780.4 675.9h0M781.4 666.9h0M788.9 664.6h0M796.5 673.4h0M792.1 685.7h0M795.6 691.0h0M781.4 706.3h0M791.0 694.1h0M790.9 709.0h0M780.6 712.7h0M784.1 696.4h0M779.9 695.8h0M780.3 703.9h0M794.8 696.0h0M793.0 713.5h0M783.6 705.3h0M787.0 713.8h0M782.4 701.0h0M784.9 702.1h0M782.4 693.4h0M783.6 707.6h0M790.1 700.8h0M795.1 711.1h0M788.2 707.9h0M783.4 698.9h0M792.9 689.1h0M785.9 706.4h0M794.5 705.2h0M785.6 689.3h0M790.4 691.6h0M786.6 710.8h0M795.8 700.1h0M789.8 712.3h0M793.1 720.0h0M788.6 726.0h0M783.2 714.6h0M786.4 719.1h0M789.3 734.6h0M785.2 721.5h0M784.0 736.7h0M785.0 726.9h0M780.3 727.1h0M782.5 726.2h0M781.9 721.5h0M787.9 738.3h0M788.6 728.8h0M794.9 715.8h0M785.7 734.2h0M792.9 737.8h0M782.1 733.9h0M783.0 728.9h0M780.1 717.9h0M791.6 730.5h0M788.2 720.9h0M776.8 716.1h0M796.5 723.6h0M792.4 723.1h0M784.1 754.7h0M786.7 750.9h0M782.7 741.2h0M790.3 746.7h0M792.2 756.6h0M780.6 746.1h0M789.0 741.2h0M784.8 744.1h0M783.6 750.6h0M777.9 756.4h0M778.8 754.0h0M793.3 744.6h0M784.9 748.2h0M787.7 759.7h0M791.5 739.3h0M787.9 754.3h0M788.5 743.3h0M787.9 762.4h0M790.3 749.3h0M786.3 739.5h0M792.1 763.0h0M785.5 762.7h0M777.8 749.4h0M780.8 749.8h0M791.9 765.5h0M786.3 772.8h0M789.2 772.0h0M783.3 765.1h0M780.7 767.6h0M789.9 783.7h0M785.7 780.9h0M784.8 769.5h0M790.4 775.7h0M779.8 782.1h0M794.3 780.2h0M783.4 779.4h0M795.7 777.5h0M783.7 788.8h0M788.9 786.8h0M788.6 767.9h0M785.4 766.1h0M791.4 782.0h0M793.6 769.6h0M792.6 788.8h0M785.2 784.3h0M788.1 780.6h0M781.1 788.5h0M785.7 775.3h0M794.5 808.4h0M784.3 801.9h0M786.7 790.1h0M783.4 809.3h0M780.0 794.0h0M790.4 812.6h0M782.3 802.9h0M787.2 793.1h0M784.3 790.8h0M793.8 794.8h0M789.9 806.6h0M783.9 797.2h0M784.7 795.0h0M790.8 795.5h0M783.7 807.0h0M788.1 811.5h0M787.3 802.6h0M787.5 799.2h0M792.2 803.5h0M787.9 796.4h0M785.8 813.7h0M779.2 805.7h0M775.8 800.2h0M782.7 811.9h0M766.7 22.5h0M785.5 22.5h0M780.0 20.0h0M766.0 54.0h0M825.5 518.2h0M802.5 517.7h0M811.0 555.3h0M877.4 561.1h0M771.7 427.0h0M763.0 457.6h0M770.0 555.0h0M769.4 537.7h0" stroke="#00ffff" stroke-width="7" stroke-linecap="round" fill="none"/>
<polyline points="783.5,48.2 785.5,144.6 786.5,241.0 785.5,337.4 787.0,433.8 786.0,530.2 785.5,626.6 784.5,722.9 784.5,819.3" fill="none" stroke="#0000ff" stroke-width="2.8" stroke-linejoin="round"/>
<circle cx="783.5" cy="48.5" r="6.2" fill="#0000ff"/>
<circle cx="785.5" cy="144.5" r="6.2" fill="#0000ff"/>
<circle cx="786.5" cy="240.5" r="6.2" fill="#0000ff"/>
<circle cx="785.5" cy="337.5" r="6.2" fill="#0000ff"/>
<circle cx="787.0" cy="433.5" r="6.2" fill="#0000ff"/>
<circle cx="786.0" cy="530.5" r="6.2" fill="#0000ff"/>
<circle cx="785.5" cy="626.5" r="6.2" fill="#0000ff"/>
<circle cx="784.5" cy="722.5" r="6.2" fill="#0000ff"/>
<circle cx="784.5" cy="819.5" r="6.2" fill="#0000ff"/>
<polyline points="687.3,19.3 687.3,57.9 688.0,96.4 688.5,135.0 690.3,173.5 692.3,212.1 697.3,250.6 715.3,308.5 750.6,404.9 767.2,501.2 765.4,597.6 761.9,694.0 761.9,790.4" fill="none" stroke="#ff0000" stroke-width="9.2" stroke-linejoin="round"/>
<circle cx="687.3" cy="19.5" r="6.3" fill="#ff0000"/>
<circle cx="687.3" cy="57.5" r="6.3" fill="#ff0000"/>
<circle cx="688.0" cy="96.5" r="6.3" fill="#ff0000"/>
<circle cx="688.5" cy="134.5" r="6.3" fill="#ff0000"/>
<circle cx="690.3" cy="173.5" r="6.3" fill="#ff0000"/>
<circle cx="692.3" cy="212.5" r="6.3" fill="#ff0000"/>
<circle cx="697.3" cy="250.5" r="6.3" fill="#ff0000"/>
<circle cx="715.3" cy="308.5" r="6.3" fill="#ff0000"/>
<circle cx="750.6" cy="404.5" r="6.3" fill="#ff0000"/>
<circle cx="767.2" cy="501.5" r="6.3" fill="#ff0000"/>
<circle cx="765.4" cy="597.5" r="6.3" fill="#ff0000"/>
<circle cx="761.9" cy="694.5" r="6.3" fill="#ff0000"/>
<circle cx="761.9" cy="790.5" r="6.3" fill="#ff0000"/>
<polyline points="713.3,19.3 712.8,57.9 713.3,96.4 715.3,135.0 717.3,173.5 721.6,212.1 738.6,250.6 762.4,308.5 786.5,404.9 779.7,501.2 773.4,597.6 772.4,694.0 772.4,790.4" fill="none" stroke="#cf8a08" stroke-width="3.2" stroke-linejoin="round"/>
<polyline points="713.3,19.3 712.8,57.9 713.3,96.4 715.3,135.0 717.3,173.5 721.6,212.1 738.6,250.6 762.4,308.5 786.5,404.9 779.7,501.2 773.4,597.6 772.4,694.0 772.4,790.4" fill="none" stroke="#ffa500" stroke-width="2.5" stroke-linejoin="round"/>
<circle cx="713.3" cy="19.5" r="6.2" fill="#ffa500" stroke="#cf8a08" stroke-width="0.5"/>
<circle cx="712.8" cy="57.5" r="6.2" fill="#ffa500" stroke="#cf8a08" stroke-width="0.5"/>
<circle cx="713.3" cy="96.5" r="6.2" fill="#ffa500" stroke="#cf8a08" stroke-width="0.5"/>
<circle cx="715.3" cy="134.5" r="6.2" fill="#ffa500" stroke="#cf8a08" stroke-width="0.5"/>
<circle cx="717.3" cy="173.5" r="6.2" fill="#ffa500" stroke="#cf8a08" stroke-width="0.5"/>
<circle cx="721.6" cy="212.5" r="6.2" fill="#ffa500" stroke="#cf8a08" stroke-width="0.5"/>
<circle cx="738.6" cy="250.5" r="6.2" fill="#ffa500" stroke="#cf8a08" stroke-width="0.5"/>
<circle cx="762.4" cy="308.5" r="6.2" fill="#ffa500" stroke="#cf8a08" stroke-width="0.5"/>
<circle cx="786.5" cy="404.5" r="6.2" fill="#ffa500" stroke="#cf8a08" stroke-width="0.5"/>
<circle cx="779.7" cy="501.5" r="6.2" fill="#ffa500" stroke="#cf8a08" stroke-width="0.5"/>
<circle cx="773.4" cy="597.5" r="6.2" fill="#ffa500" stroke="#cf8a08" stroke-width="0.5"/>
<circle cx="772.4" cy="694.5" r="6.2" fill="#ffa500" stroke="#cf8a08" stroke-width="0.5"/>
<circle cx="772.4" cy="790.5" r="6.2" fill="#ffa500" stroke="#cf8a08" stroke-width="0.5"/>
<polyline points="671.5,19.3 671.5,57.9 671.5,96.4 672.0,135.0 673.2,173.5 673.6,212.1 674.7,250.6 682.5,308.5 710.3,404.9 716.3,501.2 716.6,597.6 725.3,694.0 728.3,790.4" fill="none" stroke="#008000" stroke-width="2.8" stroke-linejoin="round"/>
<circle cx="671.5" cy="19.5" r="6.2" fill="#008000"/>
<circle cx="671.5" cy="57.5" r="6.2" fill="#008000"/>
<circle cx="671.5" cy="96.5" r="6.2" fill="#008000"/>
<circle cx="672.0" cy="134.5" r="6.2" fill="#008000"/>
<circle cx="673.2" cy="173.5" r="6.2" fill="#008000"/>
<circle cx="673.6" cy="212.5" r="6.2" fill="#008000"/>
<circle cx="674.7" cy="250.5" r="6.2" fill="#008000"/>
<circle cx="682.5" cy="308.5" r="6.2" fill="#008000"/>
<circle cx="710.3" cy="404.5" r="6.2" fill="#008000"/>
<circle cx="716.3" cy="501.5" r="6.2" fill="#008000"/>
<circle cx="716.6" cy="597.5" r="6.2" fill="#008000"/>
<circle cx="725.3" cy="694.5" r="6.2" fill="#008000"/>
<circle cx="728.3" cy="790.5" r="6.2" fill="#008000"/>
<polyline points="716.6,28.8 716.6,49.0 716.6,70.3 716.6,92.9 715.3,117.2 713.3,143.5 712.3,172.2 712.5,203.8 713.3,239.2 714.3,278.9 715.3,324.1 719.6,375.9 721.3,435.7 726.6,505.3 726.6,586.9 716.6,683.1" fill="none" stroke="#ff00ff" stroke-width="2.8" stroke-linejoin="round"/>
<circle cx="716.6" cy="28.5" r="6.2" fill="#ff00ff"/>
<circle cx="716.6" cy="49.5" r="6.2" fill="#ff00ff"/>
<circle cx="716.6" cy="70.5" r="6.2" fill="#ff00ff"/>
<circle cx="716.6" cy="92.5" r="6.2" fill="#ff00ff"/>
<circle cx="715.3" cy="117.5" r="6.2" fill="#ff00ff"/>
<circle cx="713.3" cy="143.5" r="6.2" fill="#ff00ff"/>
<circle cx="712.3" cy="172.5" r="6.2" fill="#ff00ff"/>
<circle cx="712.5" cy="203.5" r="6.2" fill="#ff00ff"/>
<circle cx="713.3" cy="239.5" r="6.2" fill="#ff00ff"/>
<circle cx="714.3" cy="278.5" r="6.2" fill="#ff00ff"/>
<circle cx="715.3" cy="324.5" r="6.2" fill="#ff00ff"/>
<circle cx="719.6" cy="375.5" r="6.2" fill="#ff00ff"/>
<circle cx="721.3" cy="435.5" r="6.2" fill="#ff00ff"/>
<circle cx="726.6" cy="505.5" r="6.2" fill="#ff00ff"/>
<circle cx="726.6" cy="586.5" r="6.2" fill="#ff00ff"/>
<circle cx="716.6" cy="683.5" r="6.2" fill="#ff00ff"/>
</g>
<path d="M593.5 814.5v6M672.5 814.5v6M752.5 814.5v6M831.5 814.5v6M911.5 814.5v6M572.5 19.5h-6M572.5 115.5h-6M572.5 212.5h-6M572.5 308.5h-6M572.5 404.5h-6M572.5 501.5h-6M572.5 597.5h-6M572.5 694.5h-6M572.5 790.5h-6" stroke="#000" stroke-width="1.1" fill="none"/>
<rect x="572.5" y="19.5" width="404.0" height="795.0" fill="none" stroke="#000" stroke-width="1.1"/>
<text x="592.70" y="842.00" font-size="17.7" text-anchor="middle" font-weight="normal" font-style="normal" textLength="37.1" lengthAdjust="spacingAndGlyphs">36.0</text>
<text x="671.70" y="842.00" font-size="17.7" text-anchor="middle" font-weight="normal" font-style="normal" textLength="37.1" lengthAdjust="spacingAndGlyphs">36.2</text>
<text x="751.70" y="842.00" font-size="17.7" text-anchor="middle" font-weight="normal" font-style="normal" textLength="37.1" lengthAdjust="spacingAndGlyphs">36.4</text>
<text x="830.70" y="842.00" font-size="17.7" text-anchor="middle" font-weight="normal" font-style="normal" textLength="37.1" lengthAdjust="spacingAndGlyphs">36.6</text>
<text x="910.70" y="842.00" font-size="17.7" text-anchor="middle" font-weight="normal" font-style="normal" textLength="37.1" lengthAdjust="spacingAndGlyphs">36.8</text>
<clipPath id="cp2"><rect x="1067.5" y="19.5" width="404.0" height="795.0"/></clipPath>
<path d="M1117.5 19.5V814.5M1217.5 19.5V814.5M1316.5 19.5V814.5M1416.5 19.5V814.5M1067.5 115.5H1471.5M1067.5 212.5H1471.5M1067.5 308.5H1471.5M1067.5 404.5H1471.5M1067.5 501.5H1471.5M1067.5 597.5H1471.5M1067.5 694.5H1471.5M1067.5 790.5H1471.5" stroke="#b0b0b0" stroke-width="0.9" stroke-dasharray="3.6 1.6" fill="none"/>
<g clip-path="url(#cp2)">
<path d="M1139.0 98.2h0M1130.7 72.2h0M1127.3 57.3h0M1143.4 56.5h0M1148.2 65.6h0M1127.1 86.6h0M1143.0 61.2h0M1148.3 93.9h0M1161.2 92.1h0M1156.6 86.6h0M1151.5 84.0h0M1154.3 70.1h0M1153.8 58.6h0M1150.1 78.1h0M1152.0 98.2h0M1152.7 88.6h0M1154.5 93.8h0M1156.9 64.6h0M1155.3 76.7h0M1162.0 98.2h0M1160.6 59.0h0M1158.5 73.7h0M1156.2 80.9h0M1160.1 82.8h0M1145.5 125.7h0M1128.6 120.1h0M1127.9 104.9h0M1145.4 100.0h0M1135.3 102.1h0M1144.3 149.5h0M1149.4 112.5h0M1133.4 149.4h0M1148.1 119.3h0M1142.1 139.7h0M1135.0 134.6h0M1135.9 119.0h0M1165.5 147.7h0M1155.3 107.3h0M1163.1 143.5h0M1159.3 147.2h0M1156.5 122.6h0M1153.4 146.1h0M1162.8 114.4h0M1153.8 114.2h0M1156.7 132.7h0M1164.1 123.0h0M1156.4 138.8h0M1160.9 128.2h0M1164.5 104.0h0M1163.9 109.3h0M1164.4 134.6h0M1156.6 143.6h0M1151.0 149.9h0M1150.5 134.4h0M1159.7 107.8h0M1160.8 120.3h0M1162.7 138.7h0M1150.3 140.5h0M1152.3 104.4h0M1153.6 127.7h0M1158.3 114.8h0M1160.0 102.3h0M1150.5 124.9h0M1166.2 116.4h0M1133.6 190.2h0M1136.1 198.8h0M1141.9 166.0h0M1136.6 154.9h0M1135.9 163.1h0M1134.0 175.0h0M1141.2 185.7h0M1143.8 190.9h0M1145.3 178.2h0M1151.4 158.5h0M1152.7 202.8h0M1140.2 200.6h0M1144.0 205.9h0M1152.5 169.9h0M1160.3 174.9h0M1173.2 178.1h0M1161.9 151.4h0M1162.3 205.5h0M1163.0 197.7h0M1172.0 206.2h0M1168.9 179.8h0M1170.3 194.6h0M1156.1 188.9h0M1168.1 158.1h0M1159.8 156.4h0M1155.3 197.6h0M1162.9 166.7h0M1166.4 192.9h0M1158.1 205.4h0M1173.4 187.3h0M1163.1 179.8h0M1168.2 203.1h0M1172.1 165.2h0M1158.1 181.7h0M1168.6 184.4h0M1167.8 169.5h0M1168.2 151.7h0M1164.5 155.7h0M1161.4 170.7h0M1155.6 162.1h0M1169.9 173.8h0M1167.4 164.3h0M1169.7 188.9h0M1162.3 191.0h0M1156.6 177.7h0M1157.6 209.8h0M1141.5 222.2h0M1163.2 233.7h0M1137.1 242.4h0M1153.7 231.1h0M1149.9 236.4h0M1147.1 240.8h0M1181.3 240.8h0M1133.4 221.0h0M1159.3 219.1h0M1140.2 229.4h0M1136.6 208.4h0M1153.0 249.8h0M1167.0 232.3h0M1180.3 229.1h0M1170.6 223.6h0M1173.8 243.8h0M1130.1 246.7h0M1131.8 232.0h0M1134.0 237.8h0M1153.8 206.8h0M1176.4 212.4h0M1179.6 219.2h0M1171.9 217.7h0M1148.5 205.5h0M1144.4 213.9h0M1167.9 207.3h0M1138.5 248.6h0M1177.6 238.0h0M1163.5 248.1h0M1130.6 204.5h0M1175.9 203.5h0M1150.0 246.8h0M1162.5 228.1h0M1170.1 214.0h0M1133.7 283.2h0M1151.7 262.2h0M1157.8 304.9h0M1169.7 291.6h0M1176.1 300.2h0M1179.9 252.9h0M1194.2 250.9h0M1180.5 277.3h0M1190.5 304.9h0M1172.8 256.8h0M1158.8 257.5h0M1166.0 255.3h0M1147.4 295.1h0M1150.5 283.6h0M1186.5 286.9h0M1183.6 304.1h0M1147.5 260.8h0M1194.6 303.2h0M1152.3 303.7h0M1137.4 263.2h0M1186.4 256.0h0M1186.3 262.9h0M1180.5 257.4h0M1163.6 283.3h0M1167.2 300.0h0M1134.2 291.1h0M1185.7 280.3h0M1159.1 265.2h0M1180.7 294.3h0M1132.9 251.4h0M1175.5 262.9h0M1195.0 277.5h0M1149.6 271.3h0M1189.0 295.1h0M1179.0 307.3h0M1190.3 277.3h0M1137.3 286.4h0M1141.7 262.5h0M1152.8 296.2h0M1171.7 282.1h0M1172.8 304.3h0M1161.6 300.8h0M1193.3 264.8h0M1144.6 283.3h0M1133.3 255.8h0M1136.7 267.2h0M1175.3 294.0h0M1177.9 268.4h0M1139.2 275.8h0M1143.8 256.7h0M1193.1 330.1h0M1197.4 357.4h0M1174.4 340.4h0M1178.3 362.3h0M1149.8 344.2h0M1154.7 320.5h0M1151.5 360.8h0M1195.9 337.0h0M1148.8 319.8h0M1157.0 332.9h0M1192.8 343.2h0M1168.4 350.0h0M1149.0 332.8h0M1165.3 312.4h0M1157.0 346.3h0M1175.4 325.8h0M1142.5 346.3h0M1147.6 308.3h0M1185.8 365.1h0M1165.2 346.4h0M1139.4 334.9h0M1145.3 323.6h0M1139.2 364.5h0M1173.8 310.8h0M1171.9 361.7h0M1152.8 350.3h0M1182.9 345.6h0M1160.2 342.3h0M1179.4 337.3h0M1183.7 358.2h0M1184.6 337.1h0M1141.7 328.8h0M1162.3 371.2h0M1180.7 312.0h0M1147.2 360.9h0M1162.1 360.2h0M1200.0 329.7h0M1199.3 323.2h0M1139.9 351.5h0M1167.4 326.7h0M1143.9 355.1h0M1178.1 331.1h0M1187.9 311.0h0M1141.3 318.0h0M1167.7 331.5h0M1187.0 347.3h0M1157.9 362.6h0M1171.7 354.2h0M1149.3 367.4h0M1163.4 336.1h0M1168.3 309.1h0M1164.9 316.6h0M1193.5 349.0h0M1165.3 355.0h0M1188.0 372.7h0M1139.1 342.4h0M1188.8 337.3h0M1170.7 314.8h0M1161.3 320.8h0M1185.9 353.0h0M1151.8 408.6h0M1188.7 424.2h0M1163.8 396.3h0M1171.5 399.2h0M1193.7 424.4h0M1189.7 433.0h0M1150.3 429.9h0M1163.1 390.2h0M1155.5 431.5h0M1154.1 379.9h0M1164.6 422.8h0M1185.3 401.3h0M1165.2 383.1h0M1184.9 418.9h0M1155.9 413.8h0M1189.6 395.8h0M1156.6 418.2h0M1176.2 397.9h0M1145.2 393.8h0M1180.2 385.9h0M1169.1 419.7h0M1178.8 414.7h0M1175.4 427.6h0M1163.6 404.6h0M1179.7 410.7h0M1156.6 375.1h0M1181.3 422.6h0M1192.1 428.3h0M1191.0 380.3h0M1154.2 425.3h0M1172.3 430.3h0M1161.6 378.8h0M1177.7 377.1h0M1191.8 391.4h0M1155.0 403.2h0M1168.9 403.3h0M1184.8 393.9h0M1165.0 427.0h0M1187.4 385.1h0M1180.1 402.5h0M1192.2 416.2h0M1168.1 389.5h0M1155.4 393.2h0M1173.4 417.8h0M1182.5 431.3h0M1171.4 410.7h0M1178.5 432.3h0M1160.8 410.3h0M1171.6 381.1h0M1146.3 412.7h0M1195.1 405.1h0M1210.4 418.0h0M1212.9 377.8h0M1203.7 394.2h0M1230.5 415.9h0M1240.8 430.4h0M1225.6 377.7h0M1231.6 395.6h0M1228.3 385.1h0M1216.8 389.1h0M1232.3 429.9h0M1215.2 404.2h0M1222.3 411.5h0M1225.6 431.4h0M1217.4 427.1h0M1242.1 378.5h0M1204.5 388.7h0M1237.9 415.1h0M1204.1 420.8h0M1242.6 422.3h0M1214.1 422.5h0M1209.3 429.0h0M1166.3 445.6h0M1173.7 459.3h0M1194.4 450.0h0M1184.2 442.4h0M1192.5 463.6h0M1180.6 447.8h0M1201.8 439.8h0M1181.9 455.1h0M1193.6 442.8h0M1165.5 455.1h0M1211.7 459.4h0M1206.0 461.2h0M1248.2 449.2h0M1252.2 457.9h0M1240.6 441.3h0M1209.8 436.7h0M1210.1 454.6h0M1242.2 463.3h0M1225.3 444.6h0M1256.9 433.3h0M1255.6 446.2h0M1247.3 439.7h0M1233.7 457.1h0M1243.2 455.2h0M1235.0 452.9h0M1216.8 458.2h0M1224.8 439.8h0M1213.1 449.5h0M1230.6 436.4h0M1253.6 453.3h0M1232.4 441.8h0M1227.1 462.1h0M1227.5 449.1h0M1250.2 435.2h0M1242.6 436.9h0M1219.5 435.7h0M1206.2 455.8h0M1245.6 443.4h0M1213.3 441.8h0M1217.1 450.8h0M1219.5 462.2h0M1205.8 440.4h0M1238.1 447.3h0M1209.4 445.4h0M1207.4 450.1h0M1254.0 438.6h0M1216.1 470.6h0M1173.5 466.1h0M1210.6 496.4h0M1184.5 477.1h0M1187.7 487.2h0M1186.0 481.4h0M1202.0 474.6h0M1224.7 487.9h0M1250.6 465.1h0M1239.6 494.6h0M1247.7 488.6h0M1266.8 472.1h0M1237.8 470.2h0M1262.9 485.5h0M1235.0 489.9h0M1231.5 482.6h0M1230.3 491.4h0M1222.8 483.4h0M1257.6 478.4h0M1239.7 486.8h0M1245.9 499.3h0M1260.1 489.0h0M1251.9 472.8h0M1253.2 487.8h0M1261.0 467.1h0M1242.1 476.9h0M1235.1 474.0h0M1245.5 469.1h0M1224.2 476.9h0M1222.0 499.4h0M1219.7 491.3h0M1263.0 480.4h0M1242.9 481.1h0M1230.5 473.0h0M1256.7 492.5h0M1225.5 467.0h0M1262.4 475.5h0M1220.3 475.1h0M1223.8 493.9h0M1251.0 482.9h0M1246.3 484.6h0M1259.0 473.0h0M1247.4 478.7h0M1250.0 498.3h0M1256.8 497.3h0M1215.7 526.2h0M1226.7 528.5h0M1219.2 531.3h0M1224.8 513.4h0M1252.3 529.4h0M1278.6 513.2h0M1278.4 527.8h0M1267.7 511.8h0M1247.9 510.1h0M1267.2 516.2h0M1245.5 505.1h0M1273.1 506.7h0M1243.0 518.6h0M1237.6 514.2h0M1244.6 530.1h0M1261.0 517.3h0M1274.7 533.1h0M1235.4 519.8h0M1272.0 529.6h0M1280.0 531.7h0M1265.3 530.7h0M1247.3 515.1h0M1281.6 524.7h0M1256.6 511.0h0M1262.5 526.5h0M1249.8 504.9h0M1265.2 507.7h0M1241.1 527.0h0M1262.0 505.1h0M1279.3 505.6h0M1251.3 518.8h0M1247.8 527.0h0M1253.1 523.2h0M1250.2 534.7h0M1213.6 537.0h0M1225.0 547.6h0M1235.3 535.7h0M1248.1 541.1h0M1259.5 555.5h0M1269.9 540.9h0M1265.0 537.7h0M1256.2 535.6h0M1260.5 540.8h0M1253.6 543.5h0M1278.9 537.1h0M1244.0 538.3h0M1259.3 545.9h0M1281.9 553.2h0M1252.1 538.3h0M1264.7 555.8h0M1250.1 554.1h0M1256.4 558.9h0M1283.0 539.4h0M1276.3 549.8h0M1280.7 547.0h0M1265.4 547.4h0M1241.1 554.0h0M1244.7 625.7h0M1240.3 601.4h0M1251.5 610.0h0M1268.1 614.5h0M1276.9 632.1h0M1245.2 576.8h0M1261.8 627.7h0M1257.8 575.1h0M1263.6 583.0h0M1243.5 618.9h0M1260.5 621.5h0M1244.7 584.7h0M1260.1 604.2h0M1242.3 592.1h0M1257.5 611.4h0M1250.6 631.9h0M1254.8 597.5h0M1242.6 562.9h0M1281.1 631.5h0M1267.6 569.7h0M1248.7 583.3h0M1252.7 583.8h0M1277.7 600.8h0M1285.0 582.4h0M1272.8 619.7h0M1256.7 619.5h0M1244.5 612.7h0M1271.2 601.3h0M1267.7 593.9h0M1259.3 594.7h0M1267.4 621.8h0M1271.7 560.5h0M1279.5 563.6h0M1259.5 581.8h0M1269.1 586.3h0M1282.7 577.8h0M1282.4 622.1h0M1282.5 600.3h0M1273.5 628.6h0M1246.8 590.2h0M1276.9 624.7h0M1270.2 609.3h0M1278.0 617.9h0M1274.2 566.7h0M1284.6 570.6h0M1308.1 619.1h0M1352.4 584.1h0M1354.2 604.6h0M1302.9 606.7h0M1309.6 612.6h0M1334.6 623.4h0M1353.0 625.0h0M1337.5 617.3h0M1326.2 629.6h0M1329.4 599.5h0M1326.4 587.1h0M1321.3 609.4h0M1342.4 616.0h0M1301.5 587.2h0M1325.4 619.8h0M1312.4 617.8h0M1309.4 592.6h0M1348.6 586.4h0M1348.0 606.9h0M1296.6 602.3h0M1329.1 582.2h0M1318.5 603.2h0M1319.4 627.0h0M1342.1 623.0h0M1293.6 624.6h0M1300.8 631.9h0M1311.3 628.2h0M1327.6 607.3h0M1339.8 602.1h0M1305.2 631.7h0M1336.5 629.6h0M1334.2 611.9h0M1254.2 651.4h0M1280.6 641.9h0M1250.7 689.7h0M1289.8 635.1h0M1256.0 633.2h0M1274.3 698.9h0M1253.4 671.7h0M1269.2 681.8h0M1277.4 682.1h0M1250.8 698.5h0M1288.2 640.3h0M1245.6 687.4h0M1287.7 658.5h0M1296.1 675.4h0M1273.2 635.7h0M1271.7 658.4h0M1291.7 657.7h0M1250.3 649.8h0M1291.0 667.6h0M1264.3 691.7h0M1299.1 660.9h0M1284.1 654.5h0M1280.7 689.8h0M1299.7 644.6h0M1270.3 676.4h0M1269.4 668.4h0M1276.5 659.5h0M1261.3 660.9h0M1271.0 648.6h0M1296.0 633.5h0M1264.1 697.6h0M1284.1 648.8h0M1285.4 666.6h0M1250.2 640.0h0M1281.7 674.6h0M1267.2 652.9h0M1262.4 673.5h0M1288.7 685.8h0M1246.4 694.9h0M1250.8 660.7h0M1269.1 696.9h0M1253.3 680.3h0M1246.7 652.6h0M1249.5 656.4h0M1299.6 689.7h0M1313.8 676.2h0M1315.8 685.6h0M1320.8 697.6h0M1323.6 656.0h0M1323.7 649.8h0M1302.8 676.6h0M1326.9 691.7h0M1365.1 686.7h0M1335.6 668.4h0M1327.2 662.9h0M1358.7 646.1h0M1331.5 656.8h0M1339.4 655.3h0M1338.3 637.8h0M1351.3 665.9h0M1350.1 654.8h0M1347.8 658.7h0M1360.0 662.2h0M1342.1 671.0h0M1357.4 641.2h0M1333.7 677.6h0M1341.7 648.1h0M1327.7 648.8h0M1349.3 699.4h0M1353.9 688.0h0M1347.9 684.0h0M1350.9 633.6h0M1340.0 641.8h0M1364.8 651.6h0M1338.0 645.7h0M1353.5 661.9h0M1325.5 696.6h0M1365.5 669.6h0M1356.4 633.4h0M1333.2 686.1h0M1357.5 676.0h0M1345.5 650.5h0M1354.5 697.2h0M1331.7 662.2h0M1349.3 678.8h0M1356.7 655.0h0M1356.9 667.0h0M1348.5 692.9h0M1331.8 642.1h0M1356.9 680.2h0M1339.6 666.0h0M1353.7 674.5h0M1344.1 674.6h0M1255.4 639.0h0M1255.5 664.7h0M1246.1 660.3h0M1249.9 622.4h0M1251.4 727.8h0M1250.0 602.5h0M1257.6 679.4h0M1257.2 699.1h0M1251.6 626.5h0M1252.3 723.7h0M1256.5 706.8h0M1256.2 601.5h0M1248.0 617.0h0M1257.4 642.5h0M1246.7 637.8h0M1254.4 712.4h0M1256.5 685.4h0M1247.5 712.6h0M1257.1 627.7h0M1246.3 721.8h0M1247.4 665.8h0M1253.1 643.5h0M1286.2 703.9h0M1287.0 723.8h0M1288.1 733.5h0M1267.9 718.1h0M1275.1 707.7h0M1263.0 736.4h0M1259.8 752.4h0M1276.4 718.3h0M1258.8 715.8h0M1269.8 707.8h0M1265.4 754.9h0M1296.9 752.0h0M1297.4 740.0h0M1282.6 755.0h0M1272.1 739.0h0M1292.8 749.6h0M1277.8 749.8h0M1267.7 747.1h0M1271.7 712.3h0M1291.4 745.2h0M1281.8 726.8h0M1263.1 748.0h0M1283.3 738.2h0M1291.0 701.5h0M1293.3 714.9h0M1259.7 728.2h0M1253.0 749.7h0M1293.0 724.9h0M1289.7 708.6h0M1272.5 720.0h0M1309.7 720.9h0M1301.1 750.4h0M1307.6 742.6h0M1323.6 721.7h0M1308.7 738.6h0M1363.7 730.4h0M1351.5 706.2h0M1337.8 725.9h0M1351.8 721.7h0M1355.3 747.8h0M1335.2 730.0h0M1329.1 718.3h0M1348.7 747.2h0M1332.9 745.6h0M1327.7 729.5h0M1352.8 713.1h0M1365.6 751.1h0M1341.0 712.3h0M1356.7 719.3h0M1360.3 715.8h0M1349.1 717.9h0M1339.9 720.1h0M1345.2 754.3h0M1331.3 741.8h0M1345.0 727.9h0M1341.4 743.8h0M1358.9 750.4h0M1351.2 728.9h0M1362.3 755.9h0M1346.2 711.6h0M1344.1 734.3h0M1334.0 703.7h0M1345.3 738.8h0M1363.5 743.8h0M1364.5 722.0h0M1351.9 752.8h0M1345.9 723.3h0M1335.8 709.8h0M1361.1 736.8h0M1339.9 756.0h0M1334.2 753.7h0M1350.4 741.8h0M1358.8 709.2h0M1328.0 710.3h0M1360.5 726.2h0M1341.7 784.4h0M1343.7 811.6h0M1331.4 768.1h0M1344.8 763.8h0M1353.2 806.4h0M1350.8 775.9h0M1349.0 770.8h0M1331.6 774.0h0M1344.5 800.5h0M1345.6 805.9h0M1336.7 801.1h0M1336.3 788.5h0M1349.2 798.1h0M1366.0 784.1h0M1349.5 762.3h0M1331.5 784.8h0M1357.2 777.2h0M1354.5 771.5h0M1357.6 801.5h0M1345.5 778.2h0M1330.4 778.1h0M1353.1 760.1h0M1149.0 21.0h0M1154.0 22.5h0M1158.0 20.5h0M1176.5 202.0h0M1185.3 219.7h0M1202.3 222.2h0M1182.3 228.0h0M1223.3 249.3h0M1220.3 261.4h0M1244.6 264.6h0M1234.1 273.4h0M1242.4 290.2h0M1245.4 307.7h0M1246.1 315.2h0M1232.9 331.5h0M1244.6 341.5h0M1246.6 351.6h0M1234.1 347.8h0M1231.6 357.8h0M1247.9 362.8h0M1172.2 442.6h0M1172.2 460.1h0M1182.3 478.4h0M1185.3 499.0h0M1192.3 496.4h0M1207.3 511.5h0M1192.3 520.2h0M1186.5 528.5h0M1191.5 541.5h0M1191.5 570.3h0M1225.4 579.1h0M1224.6 615.9h0" stroke="#00ffff" stroke-width="7" stroke-linecap="round" fill="none"/>
<polyline points="1150.2,48.2 1152.2,144.6 1158.2,241.0 1174.5,337.4 1213.3,433.8 1253.4,530.2 1289.2,626.6 1308.0,722.9 1349.1,819.3" fill="none" stroke="#0000ff" stroke-width="2.8" stroke-linejoin="round"/>
<circle cx="1150.2" cy="48.5" r="6.2" fill="#0000ff"/>
<circle cx="1152.2" cy="144.5" r="6.2" fill="#0000ff"/>
<circle cx="1158.2" cy="240.5" r="6.2" fill="#0000ff"/>
<circle cx="1174.5" cy="337.5" r="6.2" fill="#0000ff"/>
<circle cx="1213.3" cy="433.5" r="6.2" fill="#0000ff"/>
<circle cx="1253.4" cy="530.5" r="6.2" fill="#0000ff"/>
<circle cx="1289.2" cy="626.5" r="6.2" fill="#0000ff"/>
<circle cx="1308.0" cy="722.5" r="6.2" fill="#0000ff"/>
<circle cx="1349.1" cy="819.5" r="6.2" fill="#0000ff"/>
<polyline points="1130.7,19.3 1132.2,57.9 1135.2,96.4 1139.7,135.0 1144.7,173.5 1150.8,212.1 1159.7,250.6 1185.3,308.5 1247.6,404.9 1289.2,501.2 1296.0,597.6 1301.8,694.0 1304.3,790.4" fill="none" stroke="#ff0000" stroke-width="9.2" stroke-linejoin="round"/>
<circle cx="1130.7" cy="19.5" r="6.3" fill="#ff0000"/>
<circle cx="1132.2" cy="57.5" r="6.3" fill="#ff0000"/>
<circle cx="1135.2" cy="96.5" r="6.3" fill="#ff0000"/>
<circle cx="1139.7" cy="134.5" r="6.3" fill="#ff0000"/>
<circle cx="1144.7" cy="173.5" r="6.3" fill="#ff0000"/>
<circle cx="1150.8" cy="212.5" r="6.3" fill="#ff0000"/>
<circle cx="1159.7" cy="250.5" r="6.3" fill="#ff0000"/>
<circle cx="1185.3" cy="308.5" r="6.3" fill="#ff0000"/>
<circle cx="1247.6" cy="404.5" r="6.3" fill="#ff0000"/>
<circle cx="1289.2" cy="501.5" r="6.3" fill="#ff0000"/>
<circle cx="1296.0" cy="597.5" r="6.3" fill="#ff0000"/>
<circle cx="1301.8" cy="694.5" r="6.3" fill="#ff0000"/>
<circle cx="1304.3" cy="790.5" r="6.3" fill="#ff0000"/>
<polyline points="1138.9,19.3 1140.2,57.9 1141.9,96.4 1145.9,135.0 1150.2,173.5 1157.0,212.1 1176.5,250.6 1213.3,308.5 1278.5,404.9 1322.5,501.2 1340.6,597.6 1352.6,694.0 1354.4,790.4" fill="none" stroke="#cf8a08" stroke-width="3.2" stroke-linejoin="round"/>
<polyline points="1138.9,19.3 1140.2,57.9 1141.9,96.4 1145.9,135.0 1150.2,173.5 1157.0,212.1 1176.5,250.6 1213.3,308.5 1278.5,404.9 1322.5,501.2 1340.6,597.6 1352.6,694.0 1354.4,790.4" fill="none" stroke="#ffa500" stroke-width="2.5" stroke-linejoin="round"/>
<circle cx="1138.9" cy="19.5" r="6.2" fill="#ffa500" stroke="#cf8a08" stroke-width="0.5"/>
<circle cx="1140.2" cy="57.5" r="6.2" fill="#ffa500" stroke="#cf8a08" stroke-width="0.5"/>
<circle cx="1141.9" cy="96.5" r="6.2" fill="#ffa500" stroke="#cf8a08" stroke-width="0.5"/>
<circle cx="1145.9" cy="134.5" r="6.2" fill="#ffa500" stroke="#cf8a08" stroke-width="0.5"/>
<circle cx="1150.2" cy="173.5" r="6.2" fill="#ffa500" stroke="#cf8a08" stroke-width="0.5"/>
<circle cx="1157.0" cy="212.5" r="6.2" fill="#ffa500" stroke="#cf8a08" stroke-width="0.5"/>
<circle cx="1176.5" cy="250.5" r="6.2" fill="#ffa500" stroke="#cf8a08" stroke-width="0.5"/>
<circle cx="1213.3" cy="308.5" r="6.2" fill="#ffa500" stroke="#cf8a08" stroke-width="0.5"/>
<circle cx="1278.5" cy="404.5" r="6.2" fill="#ffa500" stroke="#cf8a08" stroke-width="0.5"/>
<circle cx="1322.5" cy="501.5" r="6.2" fill="#ffa500" stroke="#cf8a08" stroke-width="0.5"/>
<circle cx="1340.6" cy="597.5" r="6.2" fill="#ffa500" stroke="#cf8a08" stroke-width="0.5"/>
<circle cx="1352.6" cy="694.5" r="6.2" fill="#ffa500" stroke="#cf8a08" stroke-width="0.5"/>
<circle cx="1354.4" cy="790.5" r="6.2" fill="#ffa500" stroke="#cf8a08" stroke-width="0.5"/>
<polyline points="1116.4,19.3 1120.6,57.9 1122.6,96.4 1128.4,135.0 1136.7,173.5 1140.7,212.1 1146.4,250.6 1173.2,308.5 1268.8,404.9 1308.0,501.2 1313.0,597.6 1374.6,694.0 1393.4,790.4" fill="none" stroke="#008000" stroke-width="2.8" stroke-linejoin="round"/>
<circle cx="1116.4" cy="19.5" r="6.2" fill="#008000"/>
<circle cx="1120.6" cy="57.5" r="6.2" fill="#008000"/>
<circle cx="1122.6" cy="96.5" r="6.2" fill="#008000"/>
<circle cx="1128.4" cy="134.5" r="6.2" fill="#008000"/>
<circle cx="1136.7" cy="173.5" r="6.2" fill="#008000"/>
<circle cx="1140.7" cy="212.5" r="6.2" fill="#008000"/>
<circle cx="1146.4" cy="250.5" r="6.2" fill="#008000"/>
<circle cx="1173.2" cy="308.5" r="6.2" fill="#008000"/>
<circle cx="1268.8" cy="404.5" r="6.2" fill="#008000"/>
<circle cx="1308.0" cy="501.5" r="6.2" fill="#008000"/>
<circle cx="1313.0" cy="597.5" r="6.2" fill="#008000"/>
<circle cx="1374.6" cy="694.5" r="6.2" fill="#008000"/>
<circle cx="1393.4" cy="790.5" r="6.2" fill="#008000"/>
<polyline points="1145.7,28.8 1145.7,49.0 1146.4,70.3 1147.2,92.9 1148.4,117.2 1154.0,143.5 1160.2,172.2 1162.5,203.8 1164.0,239.2 1171.5,278.9 1193.5,324.1 1237.1,375.9 1293.0,435.7 1341.3,505.3 1369.4,586.9 1421.2,683.1" fill="none" stroke="#ff00ff" stroke-width="2.8" stroke-linejoin="round"/>
<circle cx="1145.7" cy="28.5" r="6.2" fill="#ff00ff"/>
<circle cx="1145.7" cy="49.5" r="6.2" fill="#ff00ff"/>
<circle cx="1146.4" cy="70.5" r="6.2" fill="#ff00ff"/>
<circle cx="1147.2" cy="92.5" r="6.2" fill="#ff00ff"/>
<circle cx="1148.4" cy="117.5" r="6.2" fill="#ff00ff"/>
<circle cx="1154.0" cy="143.5" r="6.2" fill="#ff00ff"/>
<circle cx="1160.2" cy="172.5" r="6.2" fill="#ff00ff"/>
<circle cx="1162.5" cy="203.5" r="6.2" fill="#ff00ff"/>
<circle cx="1164.0" cy="239.5" r="6.2" fill="#ff00ff"/>
<circle cx="1171.5" cy="278.5" r="6.2" fill="#ff00ff"/>
<circle cx="1193.5" cy="324.5" r="6.2" fill="#ff00ff"/>
<circle cx="1237.1" cy="375.5" r="6.2" fill="#ff00ff"/>
<circle cx="1293.0" cy="435.5" r="6.2" fill="#ff00ff"/>
<circle cx="1341.3" cy="505.5" r="6.2" fill="#ff00ff"/>
<circle cx="1369.4" cy="586.5" r="6.2" fill="#ff00ff"/>
<circle cx="1421.2" cy="683.5" r="6.2" fill="#ff00ff"/>
</g>
<path d="M1117.5 814.5v6M1217.5 814.5v6M1316.5 814.5v6M1416.5 814.5v6M1067.5 19.5h-6M1067.5 115.5h-6M1067.5 212.5h-6M1067.5 308.5h-6M1067.5 404.5h-6M1067.5 501.5h-6M1067.5 597.5h-6M1067.5 694.5h-6M1067.5 790.5h-6" stroke="#000" stroke-width="1.1" fill="none"/>
<rect x="1067.5" y="19.5" width="404.0" height="795.0" fill="none" stroke="#000" stroke-width="1.1"/>
<text x="1116.3" y="856.6" font-size="17.7" text-anchor="middle" textLength="42.4" lengthAdjust="spacingAndGlyphs" transform="rotate(-45 1116.3 850.5)">1023</text>
<text x="1216.3" y="856.6" font-size="17.7" text-anchor="middle" textLength="42.4" lengthAdjust="spacingAndGlyphs" transform="rotate(-45 1216.3 850.5)">1024</text>
<text x="1315.3" y="856.6" font-size="17.7" text-anchor="middle" textLength="42.4" lengthAdjust="spacingAndGlyphs" transform="rotate(-45 1315.3 850.5)">1025</text>
<text x="1415.3" y="856.6" font-size="17.7" text-anchor="middle" textLength="42.4" lengthAdjust="spacingAndGlyphs" transform="rotate(-45 1415.3 850.5)">1026</text>
<text x="63.50" y="25.70" font-size="17.7" text-anchor="end" font-weight="normal" font-style="normal" textLength="10.6" lengthAdjust="spacingAndGlyphs">0</text>
<text x="63.50" y="121.70" font-size="17.7" text-anchor="end" font-weight="normal" font-style="normal" textLength="10.6" lengthAdjust="spacingAndGlyphs">5</text>
<text x="63.50" y="218.70" font-size="17.7" text-anchor="end" font-weight="normal" font-style="normal" textLength="21.2" lengthAdjust="spacingAndGlyphs">10</text>
<text x="63.50" y="314.70" font-size="17.7" text-anchor="end" font-weight="normal" font-style="normal" textLength="21.2" lengthAdjust="spacingAndGlyphs">15</text>
<text x="63.50" y="410.70" font-size="17.7" text-anchor="end" font-weight="normal" font-style="normal" textLength="21.2" lengthAdjust="spacingAndGlyphs">20</text>
<text x="63.50" y="507.70" font-size="17.7" text-anchor="end" font-weight="normal" font-style="normal" textLength="21.2" lengthAdjust="spacingAndGlyphs">25</text>
<text x="63.50" y="603.70" font-size="17.7" text-anchor="end" font-weight="normal" font-style="normal" textLength="21.2" lengthAdjust="spacingAndGlyphs">30</text>
<text x="63.50" y="700.70" font-size="17.7" text-anchor="end" font-weight="normal" font-style="normal" textLength="21.2" lengthAdjust="spacingAndGlyphs">35</text>
<text x="63.50" y="796.70" font-size="17.7" text-anchor="end" font-weight="normal" font-style="normal" textLength="21.2" lengthAdjust="spacingAndGlyphs">40</text>
<text x="28.90" y="418.40" font-size="23.5" text-anchor="middle" font-weight="bold" font-style="normal" textLength="128.5" lengthAdjust="spacingAndGlyphs" transform="rotate(-90 28.90 418.40)">Depth (m)</text>
<text x="169.8" y="872.1" font-size="23.5" font-weight="bold"><tspan textLength="181.5" lengthAdjust="spacingAndGlyphs">Temperature (</tspan><tspan font-weight="normal" font-style="italic" font-size="16.5" dy="-8" dx="1.5">o</tspan><tspan font-weight="normal" font-style="italic" dy="8" dx="1">C</tspan><tspan dx="1">)</tspan></text>
<text x="773.80" y="869.60" font-size="23.5" text-anchor="middle" font-weight="bold" font-style="normal" textLength="94.5" lengthAdjust="spacingAndGlyphs">Salinity</text>
<text x="1268.50" y="895.60" font-size="23.5" text-anchor="middle" font-weight="bold" font-style="normal" textLength="211.0" lengthAdjust="spacingAndGlyphs">Density (kg m-3)</text>
<text x="223.90" y="917.60" font-size="18.2" text-anchor="start" font-weight="normal" font-style="italic" textLength="425.7" lengthAdjust="spacingAndGlyphs">Ocean Heat Content (kJ/cm^2) - Glider: 17.3832,</text>
<text x="661.40" y="917.60" font-size="18.2" text-anchor="start" font-weight="normal" font-style="italic" textLength="144.1" lengthAdjust="spacingAndGlyphs">RTOFS: 13.3528,</text>
<text x="817.80" y="917.60" font-size="18.2" text-anchor="start" font-weight="normal" font-style="italic" textLength="227.9" lengthAdjust="spacingAndGlyphs">RTOFS (Parallel): 12.6138,</text>
<text x="1057.50" y="917.60" font-size="18.2" text-anchor="start" font-weight="normal" font-style="italic" textLength="132.9" lengthAdjust="spacingAndGlyphs">ESPC: 14.9619,</text>
<text x="1201.40" y="917.60" font-size="18.2" text-anchor="start" font-weight="normal" font-style="italic" textLength="152.9" lengthAdjust="spacingAndGlyphs">CMEMS: 12.2542,</text>
<text x="1521.70" y="37.10" font-size="23.5" text-anchor="start" font-weight="bold" font-style="normal" textLength="377.5" lengthAdjust="spacingAndGlyphs">Comparison Date: 2025-07-18</text>
<text x="1521.70" y="90.20" font-size="23.5" text-anchor="start" font-weight="bold" font-style="normal" textLength="190.5" lengthAdjust="spacingAndGlyphs">Glider: franklin</text>
<text x="1521.70" y="116.80" font-size="23.5" text-anchor="start" font-weight="bold" font-style="normal" textLength="143.5" lengthAdjust="spacingAndGlyphs">Profiles: 70</text>
<text x="1521.70" y="143.40" font-size="23.5" text-anchor="start" font-weight="bold" font-style="normal" textLength="337.5" lengthAdjust="spacingAndGlyphs">First: 2025-07-18 00:31:25</text>
<text x="1521.70" y="170.20" font-size="23.5" text-anchor="start" font-weight="bold" font-style="normal" textLength="333.5" lengthAdjust="spacingAndGlyphs">Last: 2025-07-18 23:34:10</text>
<text x="1521.70" y="196.90" font-size="23.5" text-anchor="start" font-weight="bold" font-style="normal" textLength="338.0" lengthAdjust="spacingAndGlyphs">Method: Nearest-Neighbor</text>
<clipPath id="cpm"><rect x="1562.0" y="272.8" width="404.5999999999999" height="287.49999999999994"/></clipPath>
<rect x="1562.0" y="272.8" width="404.5999999999999" height="287.49999999999994" fill="#98b7e1"/>
<g clip-path="url(#cpm)">
<path d="M1705.6 272.2L1708.2 279.3L1709.2 285.4L1707.7 292.5L1706.7 294.6L1700.6 297.1L1694.5 300.7L1689.4 304.7L1685.8 309.8L1684.3 311.8L1682.2 310.8L1677.2 309.8L1670.0 310.8L1665.0 313.9L1659.9 318.0L1655.8 322.0L1653.8 327.1L1652.7 332.2L1650.2 331.2L1645.6 330.7L1639.5 332.2L1635.5 334.2L1631.4 337.8L1628.3 342.4L1625.8 347.5L1624.8 350.5L1621.2 352.5L1617.1 354.6L1623.2 352.0L1617.1 356.1L1611.0 360.1L1604.9 364.2L1598.8 367.3L1593.7 372.3L1588.7 377.4L1584.6 382.5L1581.5 387.6L1579.0 394.7L1576.4 400.8L1574.9 406.9L1574.4 413.0L1574.9 421.2L1576.4 429.3L1579.0 438.5L1577.5 440.0L1580.5 446.1L1584.6 454.2L1589.7 462.4L1593.7 469.5L1594.8 472.6L1592.7 474.6L1593.2 479.7L1595.8 485.8L1598.8 493.9L1601.9 502.1L1604.9 510.2L1606.0 517.3L1606.0 515.5L1605.4 525.7L1604.4 535.9L1602.9 544.0L1599.8 551.1L1595.8 556.2L1590.7 558.2L1584.6 557.2L1580.5 554.2L1581.5 550.1L1580.5 545.0L1576.4 541.0L1570.3 537.9L1566.3 533.8L1563.2 525.7L1562.7 519.6L1565.3 516.5L1562.0 518.6L1562.0 267.8Z" fill="#d2b48c"/>
<path d="M1699.5 283.9L1704.6 280.3L1707.5 285.4L1706.2 292.5L1699.5 296.1L1692.4 299.8L1687.3 297.6L1686.3 294.6L1692.4 291.5L1696.5 288.4Z" fill="#98b7e1"/>
<path d="M1596.3 272.7L1595.8 279.3L1599.8 283.4L1603.9 288.4L1605.4 296.6L1609.0 299.6L1610.0 306.8L1611.0 313.9L1615.1 319.0L1618.2 329.1L1623.2 335.2L1626.8 338.3L1624.8 343.4M1621.2 272.7L1625.3 279.3L1630.4 287.4L1636.5 292.5L1632.9 297.6L1633.4 306.8L1640.5 312.9L1647.7 317.4L1651.7 320.0L1652.7 323.0M1669.0 272.7L1675.1 277.3L1680.2 277.3M1570.3 297.1L1573.9 302.7L1574.9 312.9L1579.5 322.0L1584.6 331.2L1592.7 335.2L1598.8 342.4L1603.9 340.8L1611.0 344.4L1621.2 349.5M1598.8 342.4L1606.0 347.5L1608.5 357.0L1608.5 356.1L1607.0 359.1M1562.0 386.6L1568.3 391.7L1572.9 397.8M1574.4 422.2L1569.8 423.7L1568.8 429.3L1571.4 436.4L1569.8 443.6L1568.3 444.1L1569.3 450.2L1574.4 457.3L1576.4 462.4L1581.5 464.4L1584.6 469.5L1587.6 474.6L1589.2 480.7L1586.6 482.2L1582.6 479.2" fill="none" stroke="#94b4e0" stroke-width="1.7" stroke-linejoin="round"/>
<path d="M1588.1 505.1L1591.7 509.2L1592.7 513.2L1589.7 516.8L1585.6 515.3L1582.6 511.2Z" fill="#b3b3b3"/>
<circle cx="1569.8" cy="468.5" r="1.2" fill="#b3b3b3"/>
<circle cx="1578.0" cy="486.8" r="1.2" fill="#b3b3b3"/>
<circle cx="1577.5" cy="500.0" r="1.2" fill="#b3b3b3"/>
<path d="M1562.0 295.1L1582.6 296.6L1585.1 297.6L1588.1 301.2L1589.2 305.7L1614.1 306.3L1638.5 331.2M1562.0 341.3L1567.3 350.5L1573.4 357.0L1573.4 358.1L1575.4 364.2L1579.5 369.3L1581.5 375.4L1583.6 379.0L1586.6 379.5M1562.0 412.5L1566.3 413.5L1572.9 414.1" fill="none" stroke="#000" stroke-width="1.45" stroke-linejoin="round"/>
<path d="M1705.6 272.2L1708.2 279.3L1709.2 285.4L1707.7 292.5L1706.7 294.6L1700.6 297.1L1694.5 300.7L1689.4 304.7L1685.8 309.8L1684.3 311.8L1682.2 310.8L1677.2 309.8L1670.0 310.8L1665.0 313.9L1659.9 318.0L1655.8 322.0L1653.8 327.1L1652.7 332.2L1650.2 331.2L1645.6 330.7L1639.5 332.2L1635.5 334.2L1631.4 337.8L1628.3 342.4L1625.8 347.5L1624.8 350.5L1621.2 352.5L1617.1 354.6L1623.2 352.0L1617.1 356.1L1611.0 360.1L1604.9 364.2L1598.8 367.3L1593.7 372.3L1588.7 377.4L1584.6 382.5L1581.5 387.6L1579.0 394.7L1576.4 400.8L1574.9 406.9L1574.4 413.0L1574.9 421.2L1576.4 429.3L1579.0 438.5L1577.5 440.0L1580.5 446.1L1584.6 454.2L1589.7 462.4L1593.7 469.5L1594.8 472.6L1592.7 474.6L1593.2 479.7L1595.8 485.8L1598.8 493.9L1601.9 502.1L1604.9 510.2L1606.0 517.3L1606.0 515.5L1605.4 525.7L1604.4 535.9L1602.9 544.0L1599.8 551.1L1595.8 556.2L1590.7 558.2L1584.6 557.2L1580.5 554.2L1581.5 550.1L1580.5 545.0L1576.4 541.0L1570.3 537.9L1566.3 533.8L1563.2 525.7L1562.7 519.6L1565.3 516.5" fill="none" stroke="#000" stroke-width="2.3" stroke-linejoin="round"/>
<path d="M1674.1 286.9L1679.2 289.5L1683.3 286.4L1686.3 289.5L1691.4 290.0L1696.5 286.9M1682.2 290.5L1684.3 295.6L1681.2 299.6M1673.6 299.6L1678.2 301.7L1685.3 300.1L1690.4 300.7M1695.0 274.7L1696.0 282.3M1700.6 276.2L1699.5 283.9M1681.2 273.4L1694.5 274.7L1704.6 274.7M1685.3 303.7L1689.4 304.7L1685.8 310.8M1588.1 368.3L1588.7 373.4M1592.2 368.8L1594.8 371.3M1588.1 468.0L1590.2 473.6L1594.3 472.6M1641.6 502.6L1651.7 507.7L1659.9 510.2L1666.0 514.3L1671.1 519.3L1675.1 521.4L1674.6 526.5L1672.1 531.6L1670.0 533.8L1669.0 537.9M1628.3 515.8L1634.4 521.9L1641.6 520.4L1647.7 517.8L1652.7 515.8L1653.8 511.2L1659.9 511.2M1637.5 513.2L1639.5 517.3M1652.7 538.9L1656.8 543.0L1657.8 547.1L1654.8 549.6L1651.7 548.6M1622.4 540.4L1623.0 546.0M1647.7 551.1L1646.1 555.2L1648.7 559.8L1652.7 559.8L1650.7 554.2L1647.7 551.1M1660.9 558.8L1667.0 556.7L1674.1 554.2L1677.2 548.1L1680.2 546.0L1682.2 547.1L1686.3 550.1L1690.4 553.2L1693.9 556.2L1693.9 560.3M1665.0 533.8L1668.0 535.9M1660.9 526.7L1661.9 532.8" fill="none" stroke="#000" stroke-width="3.2" stroke-linejoin="round" stroke-linecap="round"/>
<path d="M1565.3 516.8L1563.2 520.4L1563.7 526.5L1563.2 525.7L1566.3 533.8L1570.3 537.9L1576.4 541.0L1580.5 545.0L1581.5 550.1L1580.5 554.2L1584.6 557.2L1590.7 558.2L1595.8 556.2L1599.8 551.1L1602.9 544.0M1604.4 535.9L1605.7 525.7L1606.0 515.5L1603.9 505.3L1599.8 495.2" fill="none" stroke="#000" stroke-width="2.6" stroke-linejoin="round" stroke-linecap="round"/>
<path d="M1621.2 353.0L1616.1 357.1L1611.0 359.6L1608.0 362.7L1604.9 364.2L1600.9 365.7L1598.8 367.8L1594.8 370.8L1593.7 372.9L1588.7 377.4L1585.6 381.0L1583.6 383.5L1580.5 386.6L1579.5 390.7L1578.0 394.7L1577.0 397.8L1575.9 400.8L1573.9 403.9L1574.2 406.9L1573.6 413.0" fill="none" stroke="#000" stroke-width="3.3" stroke-linejoin="round" stroke-linecap="round"/>
<path d="M1620.8 353.3L1618.7 351.4M1618.8 354.9L1616.0 353.8M1617.8 355.8L1614.7 353.6M1616.4 356.9L1613.7 353.7M1615.2 357.6L1612.8 355.6M1612.9 358.7L1611.3 355.3M1610.0 360.7L1609.4 359.4M1608.2 362.4L1606.2 362.0M1607.1 363.1L1607.0 359.8M1603.0 364.9L1603.0 362.5M1601.0 365.7L1601.4 361.7M1600.7 365.9L1600.2 364.1M1599.1 367.5L1596.5 365.9M1598.2 368.3L1597.0 366.3M1596.2 369.8L1594.6 366.2M1593.9 372.5L1590.6 369.9M1592.3 374.1L1591.3 370.2M1590.5 375.8L1587.6 374.2M1587.8 378.4L1585.8 378.0M1585.9 380.7L1581.8 379.8M1585.0 381.7L1583.5 381.0M1582.2 384.9L1581.4 383.8M1581.2 385.9L1578.4 384.0M1580.0 388.7L1578.2 386.7M1579.5 390.6L1578.2 390.0M1579.3 391.1L1577.2 389.9M1578.8 392.6L1577.9 391.6M1578.1 394.4L1575.4 391.4M1577.7 395.7L1575.2 394.4M1576.6 398.9L1574.6 396.6M1575.4 401.6L1572.2 400.7M1574.4 403.2L1571.0 400.8M1573.9 403.9L1571.5 403.9M1574.0 405.3L1571.0 405.1M1574.2 406.7L1571.1 407.1M1574.1 407.7L1571.1 406.5M1574.0 409.1L1572.7 408.6M1573.7 412.3L1571.7 412.2" fill="none" stroke="#000" stroke-width="1.5" stroke-linecap="round"/>
<path d="M1682.8 311.1L1684.3 309.8M1680.4 310.5L1679.5 308.3M1677.8 309.9L1678.6 307.8M1676.9 309.9L1676.2 308.5M1674.1 310.3L1672.9 309.0M1672.0 310.5L1672.5 309.4M1669.7 311.0L1668.0 309.9M1667.1 312.6L1666.2 312.2M1664.5 314.2L1664.4 313.1M1661.7 316.5L1661.6 315.2M1658.6 319.2L1658.3 318.1M1656.4 321.4L1655.7 319.2M1655.4 322.9L1654.4 322.9M1654.8 324.5L1653.7 323.9M1654.2 325.9L1652.4 325.6M1653.3 329.2L1651.8 329.2M1652.8 331.8L1651.0 332.5" fill="none" stroke="#000" stroke-width="1.3" stroke-linecap="round"/>
<path d="M1673.6 286.4L1678.2 287.4L1681.2 285.4L1686.3 285.9L1688.4 288.4L1692.4 289.5L1696.5 286.4L1697.5 287.4L1692.4 292.0L1686.3 292.5L1684.3 295.6L1682.2 296.6L1681.2 292.5L1677.2 291.5L1673.6 288.4ZM1673.1 299.1L1676.1 298.6L1679.2 300.7L1683.3 299.1L1686.3 299.6L1690.4 300.7L1685.3 302.7L1681.2 302.2L1677.2 302.7L1673.6 301.2ZM1587.1 367.8L1590.2 367.3L1590.7 372.3L1587.6 373.9ZM1665.0 515.3L1671.1 518.8L1675.6 521.4L1675.1 527.5L1672.1 532.1L1668.0 531.6L1669.5 526.5L1668.0 521.4Z" fill="#000" stroke="#000" stroke-width="1" stroke-linejoin="round"/>
<circle cx="1646.6" cy="509.7" r="1.1" fill="#000"/>
<circle cx="1655.8" cy="522.4" r="1.1" fill="#000"/>
<circle cx="1660.9" cy="527.5" r="1.1" fill="#000"/>
<circle cx="1661.9" cy="532.1" r="1.1" fill="#000"/>
<circle cx="1624.3" cy="549.1" r="0.9" fill="#000" fill-opacity="0.5"/>
<circle cx="1625.8" cy="552.7" r="0.9" fill="#000" fill-opacity="0.5"/>
<circle cx="1627.3" cy="533.8" r="0.9" fill="#000" fill-opacity="0.5"/>
<circle cx="1632.4" cy="535.4" r="0.9" fill="#000" fill-opacity="0.5"/>
<path d="M1946.2 373.9L1948.5 373.2L1951.6 371.2" stroke="#000" stroke-width="3" stroke-linecap="round" fill="none"/>
<circle cx="1602.9" cy="398.4" r="4.8" fill="#000"/>
<circle cx="1605.4" cy="400.3" r="3.7" fill="#ff0000" stroke="#000" stroke-width="1.2"/>
</g>
<path d="M1681 272.8H1966.6V560.3H1562.0V518.6" fill="none" stroke="#000" stroke-width="1.2"/>
<path d="M1584.5 272.8v-8.3M1584.5 560.3v8.6M1651.9 272.8v-8.3M1651.9 560.3v8.6M1719.3 272.8v-8.3M1719.3 560.3v8.6M1786.6 272.8v-8.3M1786.6 560.3v8.6M1854.0 272.8v-8.3M1854.0 560.3v8.6M1921.4 272.8v-8.3M1921.4 560.3v8.6M1562.0 510.3h-8.4M1966.6 510.3h8.6M1562.0 433.8h-8.4M1966.6 433.8h8.6M1562.0 355.0h-8.4M1966.6 355.0h8.6M1562.0 273.5h-8.4M1966.6 273.5h8.6" stroke="#000" stroke-width="2.8" fill="none"/>
<path d="M1562.0 272.8v-2.8M1562.0 560.3v2.8M1607.0 272.8v-2.8M1607.0 560.3v2.8M1629.4 272.8v-2.8M1629.4 560.3v2.8M1674.3 272.8v-2.8M1674.3 560.3v2.8M1696.8 272.8v-2.8M1696.8 560.3v2.8M1741.7 272.8v-2.8M1741.7 560.3v2.8M1764.2 272.8v-2.8M1764.2 560.3v2.8M1809.1 272.8v-2.8M1809.1 560.3v2.8M1831.6 272.8v-2.8M1831.6 560.3v2.8M1876.5 272.8v-2.8M1876.5 560.3v2.8M1898.9 272.8v-2.8M1898.9 560.3v2.8M1943.9 272.8v-2.8M1943.9 560.3v2.8M1966.3 272.8v-2.8M1966.3 560.3v2.8M1562.0 560.1h-3M1966.6 560.1h3M1562.0 535.3h-3M1966.6 535.3h3M1562.0 485.1h-3M1966.6 485.1h3M1562.0 459.6h-3M1966.6 459.6h3M1562.0 407.9h-3M1966.6 407.9h3M1562.0 381.6h-3M1966.6 381.6h3M1562.0 328.2h-3M1966.6 328.2h3M1562.0 301.0h-3M1966.6 301.0h3" stroke="#000" stroke-width="1.2" fill="none"/>
<text x="1546.50" y="281.50" font-size="20.6" text-anchor="end" font-weight="normal" font-style="normal" textLength="54.0" lengthAdjust="spacingAndGlyphs">36°N</text>
<text x="1546.50" y="363.04" font-size="20.6" text-anchor="end" font-weight="normal" font-style="normal" textLength="54.0" lengthAdjust="spacingAndGlyphs">33°N</text>
<text x="1546.50" y="441.84" font-size="20.6" text-anchor="end" font-weight="normal" font-style="normal" textLength="54.0" lengthAdjust="spacingAndGlyphs">30°N</text>
<text x="1546.50" y="518.30" font-size="20.6" text-anchor="end" font-weight="normal" font-style="normal" textLength="54.0" lengthAdjust="spacingAndGlyphs">27°N</text>
<text x="1582.5" y="614.8" font-size="20.6" text-anchor="middle" textLength="54" lengthAdjust="spacingAndGlyphs" transform="rotate(-45 1582.5 607.6)">81°W</text>
<text x="1650.4" y="614.8" font-size="20.6" text-anchor="middle" textLength="54" lengthAdjust="spacingAndGlyphs" transform="rotate(-45 1650.4 607.6)">78°W</text>
<text x="1717.5" y="614.8" font-size="20.6" text-anchor="middle" textLength="54" lengthAdjust="spacingAndGlyphs" transform="rotate(-45 1717.5 607.6)">75°W</text>
<text x="1784.6" y="614.8" font-size="20.6" text-anchor="middle" textLength="54" lengthAdjust="spacingAndGlyphs" transform="rotate(-45 1784.6 607.6)">72°W</text>
<text x="1852.4" y="614.8" font-size="20.6" text-anchor="middle" textLength="54" lengthAdjust="spacingAndGlyphs" transform="rotate(-45 1852.4 607.6)">69°W</text>
<text x="1919.4" y="614.8" font-size="20.6" text-anchor="middle" textLength="54" lengthAdjust="spacingAndGlyphs" transform="rotate(-45 1919.4 607.6)">66°W</text>
<rect x="1676" y="635.8" width="176.2" height="179.4" rx="3.5" fill="#fff" fill-opacity="0.8" stroke="#cccccc" stroke-width="1.1"/>
<path d="M1684.2 655.3H1732" stroke="#0000ff" stroke-width="2.4" fill="none"/><circle cx="1708.1" cy="655.3" r="6" fill="#0000ff"/>
<text x="1749.40" y="663.90" font-size="23.4" text-anchor="start" font-weight="normal" font-style="normal" textLength="82.8" lengthAdjust="spacingAndGlyphs">franklin</text>
<path d="M1684.2 690.4H1732" stroke="#ff0000" stroke-width="2.4" fill="none"/><circle cx="1708.1" cy="690.4" r="6" fill="#ff0000"/>
<text x="1749.40" y="698.70" font-size="23.4" text-anchor="start" font-weight="normal" font-style="normal" textLength="69.7" lengthAdjust="spacingAndGlyphs">RTOFS</text>
<path d="M1684.2 724.6H1732" stroke="#ffa500" stroke-width="2.4" fill="none"/><circle cx="1708.1" cy="724.6" r="6" fill="#ffa500"/>
<text x="1749.40" y="732.90" font-size="23.4" text-anchor="start" font-weight="normal" font-style="normal" textLength="91.7" lengthAdjust="spacingAndGlyphs">RTOFS-P</text>
<path d="M1684.2 758.7H1732" stroke="#008000" stroke-width="2.4" fill="none"/><circle cx="1708.1" cy="758.7" r="6" fill="#008000"/>
<text x="1749.40" y="766.80" font-size="23.4" text-anchor="start" font-weight="normal" font-style="normal" textLength="55.0" lengthAdjust="spacingAndGlyphs">ESPC</text>
<path d="M1684.2 793.2H1732" stroke="#ff00ff" stroke-width="2.4" fill="none"/><circle cx="1708.1" cy="793.2" r="6" fill="#ff00ff"/>
<text x="1749.40" y="801.00" font-size="23.4" text-anchor="start" font-weight="normal" font-style="normal" textLength="79.8" lengthAdjust="spacingAndGlyphs">CMEMS</text>
</svg>
</body></html>
